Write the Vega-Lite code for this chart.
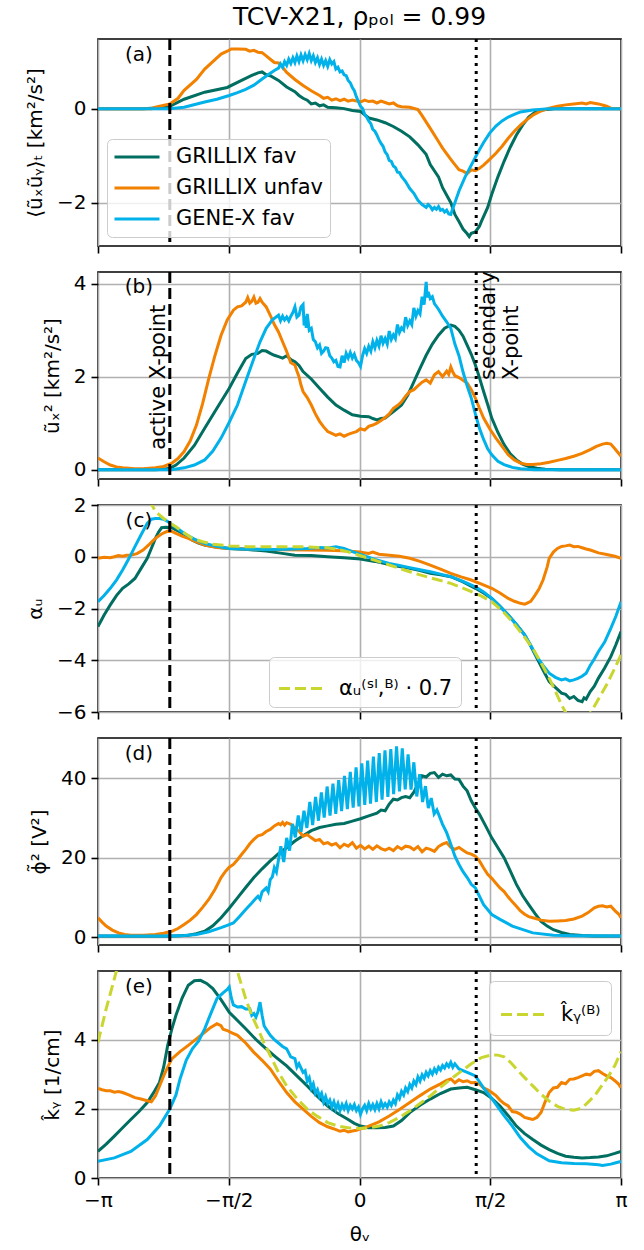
{
"$schema": "https://vega.github.io/schema/vega-lite/v6.json",
"background": "white",
"padding": {"left": 24, "top": 3, "right": 12, "bottom": 4},
"config": {
 "font": "DejaVu Sans",
 "view": {"stroke": "black", "strokeWidth": 1.6},
 "axis": {"domain": false, "grid": true, "gridColor": "#b0b0b0", "gridWidth": 1.6, "gridOpacity": 1, "tickColor": "black", "tickSize": 7, "tickWidth": 1.6, "labelFont": "DejaVu Sans", "labelFontSize": 20, "labelColor": "black", "labelPadding": 5, "labelFlush": false, "labelOverlap": false, "titleFont": "DejaVu Sans", "titleFontSize": 20, "titleFontWeight": "normal", "titleColor": "black", "titlePadding": 11},
 "legend": {"title": null, "symbolType": "stroke", "symbolSize": 1600, "symbolStrokeWidth": 3, "labelFont": "DejaVu Sans", "labelFontSize": 21, "labelColor": "black", "labelOffset": 15, "rowPadding": 0, "padding": 7, "fillColor": "rgba(255,255,255,0.8)", "strokeColor": "#cccccc", "cornerRadius": 5, "labelLimit": 300},
 "text": {"font": "DejaVu Sans", "fontSize": 20, "color": "black"}
},
"datasets": {
 "xa": [{"t": -2.279}],
 "xs": [{"t": 1.402}],
 "lab_a": [{"t": -2.65, "v": 1.15, "label": "(a)"}],
 "lab_b": [{"t": -2.65, "v": 3.92, "label": "(b)"}],
 "lab_c": [{"t": -2.65, "v": 1.4, "label": "(c)"}],
 "lab_d": [{"t": -2.65, "v": 46.2, "label": "(d)"}],
 "lab_e": [{"t": -2.65, "v": 5.53, "label": "(e)"}],
 "ann_b": [{"t": -2.403, "v": 0.43, "label": "active X-point"}, {"t": 1.56, "v": 1.93, "label": "secondary"}, {"t": 1.83, "v": 1.93, "label": "X-point"}],
 "a": [
{"s":"GRILLIX fav","t":-3.142,"v":0},{"s":"GRILLIX fav","t":-2.6,"v":0},{"s":"GRILLIX fav","t":-2.4,"v":0.02},{"s":"GRILLIX fav","t":-2.279,"v":0.05},{"s":"GRILLIX fav","t":-2.107,"v":0.2},{"s":"GRILLIX fav","t":-1.86,"v":0.35},{"s":"GRILLIX fav","t":-1.589,"v":0.45},{"s":"GRILLIX fav","t":-1.417,"v":0.6},{"s":"GRILLIX fav","t":-1.3,"v":0.7},{"s":"GRILLIX fav","t":-1.22,"v":0.76},{"s":"GRILLIX fav","t":-1.17,"v":0.78},{"s":"GRILLIX fav","t":-1.121,"v":0.72},{"s":"GRILLIX fav","t":-1.072,"v":0.7},{"s":"GRILLIX fav","t":-0.973,"v":0.6},{"s":"GRILLIX fav","t":-0.875,"v":0.46},{"s":"GRILLIX fav","t":-0.776,"v":0.36},{"s":"GRILLIX fav","t":-0.727,"v":0.28},{"s":"GRILLIX fav","t":-0.678,"v":0.22},{"s":"GRILLIX fav","t":-0.628,"v":0.18},{"s":"GRILLIX fav","t":-0.58,"v":0.1},{"s":"GRILLIX fav","t":-0.53,"v":0.12},{"s":"GRILLIX fav","t":-0.48,"v":0.06},{"s":"GRILLIX fav","t":-0.431,"v":0.08},{"s":"GRILLIX fav","t":-0.382,"v":0.03},{"s":"GRILLIX fav","t":-0.283,"v":0.02},{"s":"GRILLIX fav","t":-0.185,"v":0.0},{"s":"GRILLIX fav","t":-0.086,"v":-0.04},{"s":"GRILLIX fav","t":0.012,"v":-0.06},{"s":"GRILLIX fav","t":0.111,"v":-0.2},{"s":"GRILLIX fav","t":0.209,"v":-0.24},{"s":"GRILLIX fav","t":0.308,"v":-0.3},{"s":"GRILLIX fav","t":0.406,"v":-0.38},{"s":"GRILLIX fav","t":0.505,"v":-0.48},{"s":"GRILLIX fav","t":0.604,"v":-0.6},{"s":"GRILLIX fav","t":0.702,"v":-0.77},{"s":"GRILLIX fav","t":0.8,"v":-0.97},{"s":"GRILLIX fav","t":0.85,"v":-1.19},{"s":"GRILLIX fav","t":0.949,"v":-1.45},{"s":"GRILLIX fav","t":0.998,"v":-1.68},{"s":"GRILLIX fav","t":1.097,"v":-2.0},{"s":"GRILLIX fav","t":1.146,"v":-2.25},{"s":"GRILLIX fav","t":1.195,"v":-2.4},{"s":"GRILLIX fav","t":1.244,"v":-2.56},{"s":"GRILLIX fav","t":1.294,"v":-2.66},{"s":"GRILLIX fav","t":1.318,"v":-2.72},{"s":"GRILLIX fav","t":1.343,"v":-2.65},{"s":"GRILLIX fav","t":1.392,"v":-2.62},{"s":"GRILLIX fav","t":1.441,"v":-2.5},{"s":"GRILLIX fav","t":1.466,"v":-2.39},{"s":"GRILLIX fav","t":1.54,"v":-2.1},{"s":"GRILLIX fav","t":1.589,"v":-1.82},{"s":"GRILLIX fav","t":1.663,"v":-1.45},{"s":"GRILLIX fav","t":1.737,"v":-1.12},{"s":"GRILLIX fav","t":1.811,"v":-0.82},{"s":"GRILLIX fav","t":1.885,"v":-0.56},{"s":"GRILLIX fav","t":1.959,"v":-0.35},{"s":"GRILLIX fav","t":2.033,"v":-0.18},{"s":"GRILLIX fav","t":2.107,"v":-0.08},{"s":"GRILLIX fav","t":2.18,"v":-0.03},{"s":"GRILLIX fav","t":2.378,"v":0},{"s":"GRILLIX fav","t":3.142,"v":0},
{"s":"GRILLIX unfav","t":-3.142,"v":0},{"s":"GRILLIX unfav","t":-2.5,"v":0},{"s":"GRILLIX unfav","t":-2.452,"v":0.03},{"s":"GRILLIX unfav","t":-2.279,"v":0.1},{"s":"GRILLIX unfav","t":-2.18,"v":0.22},{"s":"GRILLIX unfav","t":-2.107,"v":0.39},{"s":"GRILLIX unfav","t":-1.959,"v":0.62},{"s":"GRILLIX unfav","t":-1.86,"v":0.84},{"s":"GRILLIX unfav","t":-1.762,"v":1.0},{"s":"GRILLIX unfav","t":-1.663,"v":1.16},{"s":"GRILLIX unfav","t":-1.589,"v":1.22},{"s":"GRILLIX unfav","t":-1.54,"v":1.27},{"s":"GRILLIX unfav","t":-1.466,"v":1.27},{"s":"GRILLIX unfav","t":-1.367,"v":1.26},{"s":"GRILLIX unfav","t":-1.318,"v":1.22},{"s":"GRILLIX unfav","t":-1.269,"v":1.24},{"s":"GRILLIX unfav","t":-1.22,"v":1.2},{"s":"GRILLIX unfav","t":-1.17,"v":1.19},{"s":"GRILLIX unfav","t":-1.121,"v":1.12},{"s":"GRILLIX unfav","t":-1.072,"v":1.05},{"s":"GRILLIX unfav","t":-1.023,"v":0.98},{"s":"GRILLIX unfav","t":-0.973,"v":0.97},{"s":"GRILLIX unfav","t":-0.924,"v":0.88},{"s":"GRILLIX unfav","t":-0.875,"v":0.77},{"s":"GRILLIX unfav","t":-0.776,"v":0.62},{"s":"GRILLIX unfav","t":-0.678,"v":0.49},{"s":"GRILLIX unfav","t":-0.58,"v":0.38},{"s":"GRILLIX unfav","t":-0.48,"v":0.28},{"s":"GRILLIX unfav","t":-0.431,"v":0.22},{"s":"GRILLIX unfav","t":-0.382,"v":0.24},{"s":"GRILLIX unfav","t":-0.333,"v":0.18},{"s":"GRILLIX unfav","t":-0.283,"v":0.21},{"s":"GRILLIX unfav","t":-0.234,"v":0.17},{"s":"GRILLIX unfav","t":-0.185,"v":0.2},{"s":"GRILLIX unfav","t":-0.136,"v":0.16},{"s":"GRILLIX unfav","t":-0.086,"v":0.18},{"s":"GRILLIX unfav","t":0.012,"v":0.14},{"s":"GRILLIX unfav","t":0.062,"v":0.18},{"s":"GRILLIX unfav","t":0.111,"v":0.15},{"s":"GRILLIX unfav","t":0.16,"v":0.16},{"s":"GRILLIX unfav","t":0.209,"v":0.12},{"s":"GRILLIX unfav","t":0.259,"v":0.16},{"s":"GRILLIX unfav","t":0.308,"v":0.13},{"s":"GRILLIX unfav","t":0.357,"v":0.1},{"s":"GRILLIX unfav","t":0.407,"v":0.12},{"s":"GRILLIX unfav","t":0.456,"v":0.06},{"s":"GRILLIX unfav","t":0.505,"v":0.04},{"s":"GRILLIX unfav","t":0.604,"v":0.03},{"s":"GRILLIX unfav","t":0.702,"v":-0.02},{"s":"GRILLIX unfav","t":0.752,"v":-0.15},{"s":"GRILLIX unfav","t":0.85,"v":-0.42},{"s":"GRILLIX unfav","t":0.949,"v":-0.7},{"s":"GRILLIX unfav","t":0.998,"v":-0.84},{"s":"GRILLIX unfav","t":1.097,"v":-1.08},{"s":"GRILLIX unfav","t":1.146,"v":-1.19},{"s":"GRILLIX unfav","t":1.195,"v":-1.3},{"s":"GRILLIX unfav","t":1.244,"v":-1.33},{"s":"GRILLIX unfav","t":1.293,"v":-1.38},{"s":"GRILLIX unfav","t":1.343,"v":-1.3},{"s":"GRILLIX unfav","t":1.392,"v":-1.32},{"s":"GRILLIX unfav","t":1.441,"v":-1.27},{"s":"GRILLIX unfav","t":1.491,"v":-1.2},{"s":"GRILLIX unfav","t":1.564,"v":-1.08},{"s":"GRILLIX unfav","t":1.639,"v":-0.95},{"s":"GRILLIX unfav","t":1.713,"v":-0.8},{"s":"GRILLIX unfav","t":1.787,"v":-0.63},{"s":"GRILLIX unfav","t":1.86,"v":-0.48},{"s":"GRILLIX unfav","t":1.934,"v":-0.35},{"s":"GRILLIX unfav","t":2.008,"v":-0.24},{"s":"GRILLIX unfav","t":2.082,"v":-0.14},{"s":"GRILLIX unfav","t":2.18,"v":-0.05},{"s":"GRILLIX unfav","t":2.279,"v":0.01},{"s":"GRILLIX unfav","t":2.378,"v":0.05},{"s":"GRILLIX unfav","t":2.476,"v":0.08},{"s":"GRILLIX unfav","t":2.575,"v":0.1},{"s":"GRILLIX unfav","t":2.674,"v":0.12},{"s":"GRILLIX unfav","t":2.723,"v":0.1},{"s":"GRILLIX unfav","t":2.772,"v":0.13},{"s":"GRILLIX unfav","t":2.871,"v":0.1},{"s":"GRILLIX unfav","t":2.969,"v":0.05},{"s":"GRILLIX unfav","t":3.019,"v":0.01},{"s":"GRILLIX unfav","t":3.142,"v":0},
{"s":"GENE-X fav","t":-3.142,"v":0},{"s":"GENE-X fav","t":-2.279,"v":0},{"s":"GENE-X fav","t":-2.107,"v":0.03},{"s":"GENE-X fav","t":-1.86,"v":0.14},{"s":"GENE-X fav","t":-1.713,"v":0.2},{"s":"GENE-X fav","t":-1.565,"v":0.28},{"s":"GENE-X fav","t":-1.466,"v":0.34},{"s":"GENE-X fav","t":-1.367,"v":0.41},{"s":"GENE-X fav","t":-1.269,"v":0.5},{"s":"GENE-X fav","t":-1.17,"v":0.63},{"s":"GENE-X fav","t":-1.098,"v":0.72},{"s":"GENE-X fav","t":-1.023,"v":0.81},{"s":"GENE-X fav","t":-0.973,"v":0.86},{"s":"GENE-X fav","t":-0.949,"v":0.95},{"s":"GENE-X fav","t":-0.924,"v":0.88},{"s":"GENE-X fav","t":-0.9,"v":1.0},{"s":"GENE-X fav","t":-0.875,"v":0.92},{"s":"GENE-X fav","t":-0.85,"v":1.05},{"s":"GENE-X fav","t":-0.825,"v":0.96},{"s":"GENE-X fav","t":-0.8,"v":1.08},{"s":"GENE-X fav","t":-0.776,"v":0.98},{"s":"GENE-X fav","t":-0.752,"v":1.12},{"s":"GENE-X fav","t":-0.727,"v":1.0},{"s":"GENE-X fav","t":-0.703,"v":1.14},{"s":"GENE-X fav","t":-0.678,"v":1.02},{"s":"GENE-X fav","t":-0.653,"v":1.15},{"s":"GENE-X fav","t":-0.628,"v":1.04},{"s":"GENE-X fav","t":-0.604,"v":1.17},{"s":"GENE-X fav","t":-0.579,"v":1.02},{"s":"GENE-X fav","t":-0.555,"v":1.12},{"s":"GENE-X fav","t":-0.53,"v":0.98},{"s":"GENE-X fav","t":-0.505,"v":1.08},{"s":"GENE-X fav","t":-0.48,"v":0.94},{"s":"GENE-X fav","t":-0.456,"v":1.05},{"s":"GENE-X fav","t":-0.431,"v":0.92},{"s":"GENE-X fav","t":-0.407,"v":1.02},{"s":"GENE-X fav","t":-0.382,"v":0.9},{"s":"GENE-X fav","t":-0.357,"v":1.04},{"s":"GENE-X fav","t":-0.333,"v":0.95},{"s":"GENE-X fav","t":-0.308,"v":1.0},{"s":"GENE-X fav","t":-0.284,"v":0.84},{"s":"GENE-X fav","t":-0.259,"v":0.88},{"s":"GENE-X fav","t":-0.234,"v":0.78},{"s":"GENE-X fav","t":-0.209,"v":0.8},{"s":"GENE-X fav","t":-0.185,"v":0.72},{"s":"GENE-X fav","t":-0.16,"v":0.7},{"s":"GENE-X fav","t":-0.136,"v":0.6},{"s":"GENE-X fav","t":-0.111,"v":0.55},{"s":"GENE-X fav","t":-0.086,"v":0.45},{"s":"GENE-X fav","t":-0.062,"v":0.38},{"s":"GENE-X fav","t":-0.037,"v":0.25},{"s":"GENE-X fav","t":-0.012,"v":0.15},{"s":"GENE-X fav","t":0.012,"v":0.05},{"s":"GENE-X fav","t":0.037,"v":0.0},{"s":"GENE-X fav","t":0.062,"v":-0.12},{"s":"GENE-X fav","t":0.086,"v":-0.18},{"s":"GENE-X fav","t":0.111,"v":-0.26},{"s":"GENE-X fav","t":0.136,"v":-0.32},{"s":"GENE-X fav","t":0.16,"v":-0.44},{"s":"GENE-X fav","t":0.185,"v":-0.48},{"s":"GENE-X fav","t":0.209,"v":-0.56},{"s":"GENE-X fav","t":0.234,"v":-0.66},{"s":"GENE-X fav","t":0.259,"v":-0.74},{"s":"GENE-X fav","t":0.283,"v":-0.8},{"s":"GENE-X fav","t":0.308,"v":-0.92},{"s":"GENE-X fav","t":0.333,"v":-0.98},{"s":"GENE-X fav","t":0.357,"v":-1.1},{"s":"GENE-X fav","t":0.382,"v":-1.12},{"s":"GENE-X fav","t":0.407,"v":-1.22},{"s":"GENE-X fav","t":0.431,"v":-1.25},{"s":"GENE-X fav","t":0.456,"v":-1.35},{"s":"GENE-X fav","t":0.48,"v":-1.36},{"s":"GENE-X fav","t":0.505,"v":-1.44},{"s":"GENE-X fav","t":0.554,"v":-1.55},{"s":"GENE-X fav","t":0.604,"v":-1.7},{"s":"GENE-X fav","t":0.653,"v":-1.8},{"s":"GENE-X fav","t":0.702,"v":-1.95},{"s":"GENE-X fav","t":0.752,"v":-2.04},{"s":"GENE-X fav","t":0.801,"v":-2.1},{"s":"GENE-X fav","t":0.825,"v":-2.04},{"s":"GENE-X fav","t":0.85,"v":-2.08},{"s":"GENE-X fav","t":0.875,"v":-2.15},{"s":"GENE-X fav","t":0.9,"v":-2.1},{"s":"GENE-X fav","t":0.924,"v":-2.14},{"s":"GENE-X fav","t":0.949,"v":-2.08},{"s":"GENE-X fav","t":0.973,"v":-2.16},{"s":"GENE-X fav","t":0.998,"v":-2.14},{"s":"GENE-X fav","t":1.022,"v":-2.2},{"s":"GENE-X fav","t":1.047,"v":-2.16},{"s":"GENE-X fav","t":1.072,"v":-2.24},{"s":"GENE-X fav","t":1.097,"v":-2.25},{"s":"GENE-X fav","t":1.121,"v":-2.12},{"s":"GENE-X fav","t":1.146,"v":-2.0},{"s":"GENE-X fav","t":1.195,"v":-1.75},{"s":"GENE-X fav","t":1.269,"v":-1.45},{"s":"GENE-X fav","t":1.343,"v":-1.2},{"s":"GENE-X fav","t":1.417,"v":-0.95},{"s":"GENE-X fav","t":1.491,"v":-0.72},{"s":"GENE-X fav","t":1.564,"v":-0.52},{"s":"GENE-X fav","t":1.639,"v":-0.37},{"s":"GENE-X fav","t":1.713,"v":-0.26},{"s":"GENE-X fav","t":1.787,"v":-0.18},{"s":"GENE-X fav","t":1.86,"v":-0.12},{"s":"GENE-X fav","t":1.934,"v":-0.07},{"s":"GENE-X fav","t":2.082,"v":-0.03},{"s":"GENE-X fav","t":2.279,"v":0},{"s":"GENE-X fav","t":3.142,"v":0}
 ],
 "b": [
{"s":"GRILLIX fav","t":-3.142,"v":0},{"s":"GRILLIX fav","t":-2.451,"v":0},{"s":"GRILLIX fav","t":-2.353,"v":0.01},{"s":"GRILLIX fav","t":-2.279,"v":0.03},{"s":"GRILLIX fav","t":-2.205,"v":0.1},{"s":"GRILLIX fav","t":-2.107,"v":0.25},{"s":"GRILLIX fav","t":-1.984,"v":0.52},{"s":"GRILLIX fav","t":-1.86,"v":0.89},{"s":"GRILLIX fav","t":-1.713,"v":1.32},{"s":"GRILLIX fav","t":-1.565,"v":1.75},{"s":"GRILLIX fav","t":-1.466,"v":2.08},{"s":"GRILLIX fav","t":-1.367,"v":2.39},{"s":"GRILLIX fav","t":-1.294,"v":2.48},{"s":"GRILLIX fav","t":-1.22,"v":2.5},{"s":"GRILLIX fav","t":-1.17,"v":2.56},{"s":"GRILLIX fav","t":-1.121,"v":2.55},{"s":"GRILLIX fav","t":-1.072,"v":2.5},{"s":"GRILLIX fav","t":-1.023,"v":2.46},{"s":"GRILLIX fav","t":-0.973,"v":2.43},{"s":"GRILLIX fav","t":-0.924,"v":2.4},{"s":"GRILLIX fav","t":-0.875,"v":2.45},{"s":"GRILLIX fav","t":-0.826,"v":2.37},{"s":"GRILLIX fav","t":-0.776,"v":2.32},{"s":"GRILLIX fav","t":-0.727,"v":2.24},{"s":"GRILLIX fav","t":-0.678,"v":2.11},{"s":"GRILLIX fav","t":-0.58,"v":1.95},{"s":"GRILLIX fav","t":-0.48,"v":1.75},{"s":"GRILLIX fav","t":-0.382,"v":1.56},{"s":"GRILLIX fav","t":-0.283,"v":1.39},{"s":"GRILLIX fav","t":-0.185,"v":1.28},{"s":"GRILLIX fav","t":-0.086,"v":1.18},{"s":"GRILLIX fav","t":0.012,"v":1.15},{"s":"GRILLIX fav","t":0.111,"v":1.14},{"s":"GRILLIX fav","t":0.16,"v":1.1},{"s":"GRILLIX fav","t":0.209,"v":1.07},{"s":"GRILLIX fav","t":0.259,"v":1.1},{"s":"GRILLIX fav","t":0.308,"v":1.11},{"s":"GRILLIX fav","t":0.357,"v":1.18},{"s":"GRILLIX fav","t":0.431,"v":1.28},{"s":"GRILLIX fav","t":0.505,"v":1.39},{"s":"GRILLIX fav","t":0.579,"v":1.6},{"s":"GRILLIX fav","t":0.653,"v":1.89},{"s":"GRILLIX fav","t":0.727,"v":2.18},{"s":"GRILLIX fav","t":0.801,"v":2.46},{"s":"GRILLIX fav","t":0.875,"v":2.7},{"s":"GRILLIX fav","t":0.949,"v":2.89},{"s":"GRILLIX fav","t":1.023,"v":3.04},{"s":"GRILLIX fav","t":1.097,"v":3.11},{"s":"GRILLIX fav","t":1.146,"v":3.08},{"s":"GRILLIX fav","t":1.195,"v":3.0},{"s":"GRILLIX fav","t":1.244,"v":2.87},{"s":"GRILLIX fav","t":1.293,"v":2.68},{"s":"GRILLIX fav","t":1.343,"v":2.48},{"s":"GRILLIX fav","t":1.392,"v":2.25},{"s":"GRILLIX fav","t":1.441,"v":1.98},{"s":"GRILLIX fav","t":1.491,"v":1.68},{"s":"GRILLIX fav","t":1.54,"v":1.4},{"s":"GRILLIX fav","t":1.589,"v":1.11},{"s":"GRILLIX fav","t":1.663,"v":0.8},{"s":"GRILLIX fav","t":1.737,"v":0.54},{"s":"GRILLIX fav","t":1.811,"v":0.34},{"s":"GRILLIX fav","t":1.885,"v":0.21},{"s":"GRILLIX fav","t":1.959,"v":0.12},{"s":"GRILLIX fav","t":2.033,"v":0.07},{"s":"GRILLIX fav","t":2.131,"v":0.03},{"s":"GRILLIX fav","t":2.23,"v":0.01},{"s":"GRILLIX fav","t":2.4,"v":0},{"s":"GRILLIX fav","t":3.142,"v":0},
{"s":"GRILLIX unfav","t":-3.142,"v":0.25},{"s":"GRILLIX unfav","t":-3.068,"v":0.17},{"s":"GRILLIX unfav","t":-2.994,"v":0.1},{"s":"GRILLIX unfav","t":-2.92,"v":0.06},{"s":"GRILLIX unfav","t":-2.846,"v":0.04},{"s":"GRILLIX unfav","t":-2.7,"v":0.02},{"s":"GRILLIX unfav","t":-2.6,"v":0.02},{"s":"GRILLIX unfav","t":-2.452,"v":0.04},{"s":"GRILLIX unfav","t":-2.353,"v":0.07},{"s":"GRILLIX unfav","t":-2.255,"v":0.14},{"s":"GRILLIX unfav","t":-2.181,"v":0.24},{"s":"GRILLIX unfav","t":-2.107,"v":0.39},{"s":"GRILLIX unfav","t":-2.033,"v":0.62},{"s":"GRILLIX unfav","t":-1.959,"v":0.96},{"s":"GRILLIX unfav","t":-1.885,"v":1.42},{"s":"GRILLIX unfav","t":-1.811,"v":1.96},{"s":"GRILLIX unfav","t":-1.737,"v":2.45},{"s":"GRILLIX unfav","t":-1.663,"v":2.89},{"s":"GRILLIX unfav","t":-1.589,"v":3.22},{"s":"GRILLIX unfav","t":-1.515,"v":3.43},{"s":"GRILLIX unfav","t":-1.466,"v":3.5},{"s":"GRILLIX unfav","t":-1.417,"v":3.52},{"s":"GRILLIX unfav","t":-1.367,"v":3.6},{"s":"GRILLIX unfav","t":-1.343,"v":3.7},{"s":"GRILLIX unfav","t":-1.318,"v":3.58},{"s":"GRILLIX unfav","t":-1.294,"v":3.62},{"s":"GRILLIX unfav","t":-1.269,"v":3.71},{"s":"GRILLIX unfav","t":-1.244,"v":3.58},{"s":"GRILLIX unfav","t":-1.22,"v":3.6},{"s":"GRILLIX unfav","t":-1.195,"v":3.68},{"s":"GRILLIX unfav","t":-1.17,"v":3.6},{"s":"GRILLIX unfav","t":-1.121,"v":3.5},{"s":"GRILLIX unfav","t":-1.072,"v":3.32},{"s":"GRILLIX unfav","t":-1.023,"v":3.12},{"s":"GRILLIX unfav","t":-0.973,"v":2.96},{"s":"GRILLIX unfav","t":-0.924,"v":2.75},{"s":"GRILLIX unfav","t":-0.875,"v":2.54},{"s":"GRILLIX unfav","t":-0.826,"v":2.3},{"s":"GRILLIX unfav","t":-0.776,"v":2.25},{"s":"GRILLIX unfav","t":-0.752,"v":2.12},{"s":"GRILLIX unfav","t":-0.727,"v":2.0},{"s":"GRILLIX unfav","t":-0.703,"v":1.82},{"s":"GRILLIX unfav","t":-0.678,"v":1.68},{"s":"GRILLIX unfav","t":-0.628,"v":1.55},{"s":"GRILLIX unfav","t":-0.579,"v":1.39},{"s":"GRILLIX unfav","t":-0.53,"v":1.2},{"s":"GRILLIX unfav","t":-0.48,"v":1.04},{"s":"GRILLIX unfav","t":-0.431,"v":0.92},{"s":"GRILLIX unfav","t":-0.382,"v":0.82},{"s":"GRILLIX unfav","t":-0.333,"v":0.78},{"s":"GRILLIX unfav","t":-0.284,"v":0.74},{"s":"GRILLIX unfav","t":-0.234,"v":0.77},{"s":"GRILLIX unfav","t":-0.185,"v":0.72},{"s":"GRILLIX unfav","t":-0.136,"v":0.76},{"s":"GRILLIX unfav","t":-0.086,"v":0.79},{"s":"GRILLIX unfav","t":-0.037,"v":0.82},{"s":"GRILLIX unfav","t":0.012,"v":0.88},{"s":"GRILLIX unfav","t":0.062,"v":0.85},{"s":"GRILLIX unfav","t":0.111,"v":0.93},{"s":"GRILLIX unfav","t":0.16,"v":0.96},{"s":"GRILLIX unfav","t":0.209,"v":1.0},{"s":"GRILLIX unfav","t":0.259,"v":1.06},{"s":"GRILLIX unfav","t":0.308,"v":1.12},{"s":"GRILLIX unfav","t":0.357,"v":1.2},{"s":"GRILLIX unfav","t":0.407,"v":1.32},{"s":"GRILLIX unfav","t":0.456,"v":1.38},{"s":"GRILLIX unfav","t":0.505,"v":1.46},{"s":"GRILLIX unfav","t":0.554,"v":1.58},{"s":"GRILLIX unfav","t":0.604,"v":1.68},{"s":"GRILLIX unfav","t":0.653,"v":1.72},{"s":"GRILLIX unfav","t":0.702,"v":1.8},{"s":"GRILLIX unfav","t":0.752,"v":1.88},{"s":"GRILLIX unfav","t":0.801,"v":1.93},{"s":"GRILLIX unfav","t":0.85,"v":1.86},{"s":"GRILLIX unfav","t":0.9,"v":2.04},{"s":"GRILLIX unfav","t":0.949,"v":2.11},{"s":"GRILLIX unfav","t":0.998,"v":2.0},{"s":"GRILLIX unfav","t":1.047,"v":2.12},{"s":"GRILLIX unfav","t":1.072,"v":2.05},{"s":"GRILLIX unfav","t":1.097,"v":2.21},{"s":"GRILLIX unfav","t":1.121,"v":2.1},{"s":"GRILLIX unfav","t":1.146,"v":2.02},{"s":"GRILLIX unfav","t":1.195,"v":1.98},{"s":"GRILLIX unfav","t":1.244,"v":1.92},{"s":"GRILLIX unfav","t":1.293,"v":1.86},{"s":"GRILLIX unfav","t":1.343,"v":1.72},{"s":"GRILLIX unfav","t":1.392,"v":1.54},{"s":"GRILLIX unfav","t":1.441,"v":1.32},{"s":"GRILLIX unfav","t":1.491,"v":1.11},{"s":"GRILLIX unfav","t":1.564,"v":0.88},{"s":"GRILLIX unfav","t":1.639,"v":0.68},{"s":"GRILLIX unfav","t":1.713,"v":0.5},{"s":"GRILLIX unfav","t":1.787,"v":0.32},{"s":"GRILLIX unfav","t":1.86,"v":0.21},{"s":"GRILLIX unfav","t":1.934,"v":0.14},{"s":"GRILLIX unfav","t":2.008,"v":0.11},{"s":"GRILLIX unfav","t":2.082,"v":0.11},{"s":"GRILLIX unfav","t":2.181,"v":0.13},{"s":"GRILLIX unfav","t":2.279,"v":0.16},{"s":"GRILLIX unfav","t":2.378,"v":0.2},{"s":"GRILLIX unfav","t":2.476,"v":0.24},{"s":"GRILLIX unfav","t":2.575,"v":0.29},{"s":"GRILLIX unfav","t":2.674,"v":0.35},{"s":"GRILLIX unfav","t":2.772,"v":0.43},{"s":"GRILLIX unfav","t":2.846,"v":0.5},{"s":"GRILLIX unfav","t":2.92,"v":0.55},{"s":"GRILLIX unfav","t":2.969,"v":0.57},{"s":"GRILLIX unfav","t":3.019,"v":0.55},{"s":"GRILLIX unfav","t":3.068,"v":0.45},{"s":"GRILLIX unfav","t":3.142,"v":0.29},
{"s":"GENE-X fav","t":-3.142,"v":0},{"s":"GENE-X fav","t":-2.255,"v":0},{"s":"GENE-X fav","t":-2.18,"v":0.02},{"s":"GENE-X fav","t":-2.107,"v":0.04},{"s":"GENE-X fav","t":-1.984,"v":0.1},{"s":"GENE-X fav","t":-1.86,"v":0.21},{"s":"GENE-X fav","t":-1.762,"v":0.4},{"s":"GENE-X fav","t":-1.663,"v":0.68},{"s":"GENE-X fav","t":-1.565,"v":1.02},{"s":"GENE-X fav","t":-1.466,"v":1.39},{"s":"GENE-X fav","t":-1.367,"v":1.9},{"s":"GENE-X fav","t":-1.269,"v":2.39},{"s":"GENE-X fav","t":-1.195,"v":2.75},{"s":"GENE-X fav","t":-1.121,"v":3.04},{"s":"GENE-X fav","t":-1.047,"v":3.22},{"s":"GENE-X fav","t":-0.973,"v":3.32},{"s":"GENE-X fav","t":-0.949,"v":3.2},{"s":"GENE-X fav","t":-0.924,"v":3.3},{"s":"GENE-X fav","t":-0.9,"v":3.22},{"s":"GENE-X fav","t":-0.875,"v":3.28},{"s":"GENE-X fav","t":-0.85,"v":3.2},{"s":"GENE-X fav","t":-0.825,"v":3.3},{"s":"GENE-X fav","t":-0.8,"v":3.38},{"s":"GENE-X fav","t":-0.776,"v":3.5},{"s":"GENE-X fav","t":-0.752,"v":3.28},{"s":"GENE-X fav","t":-0.727,"v":3.32},{"s":"GENE-X fav","t":-0.703,"v":3.5},{"s":"GENE-X fav","t":-0.678,"v":3.55},{"s":"GENE-X fav","t":-0.665,"v":3.1},{"s":"GENE-X fav","t":-0.653,"v":3.3},{"s":"GENE-X fav","t":-0.64,"v":3.05},{"s":"GENE-X fav","t":-0.628,"v":3.35},{"s":"GENE-X fav","t":-0.604,"v":3.0},{"s":"GENE-X fav","t":-0.579,"v":3.04},{"s":"GENE-X fav","t":-0.555,"v":2.8},{"s":"GENE-X fav","t":-0.53,"v":2.75},{"s":"GENE-X fav","t":-0.505,"v":2.62},{"s":"GENE-X fav","t":-0.48,"v":2.68},{"s":"GENE-X fav","t":-0.456,"v":2.5},{"s":"GENE-X fav","t":-0.431,"v":2.55},{"s":"GENE-X fav","t":-0.407,"v":2.62},{"s":"GENE-X fav","t":-0.382,"v":2.61},{"s":"GENE-X fav","t":-0.357,"v":2.45},{"s":"GENE-X fav","t":-0.333,"v":2.4},{"s":"GENE-X fav","t":-0.308,"v":2.32},{"s":"GENE-X fav","t":-0.284,"v":2.35},{"s":"GENE-X fav","t":-0.259,"v":2.22},{"s":"GENE-X fav","t":-0.234,"v":2.21},{"s":"GENE-X fav","t":-0.209,"v":2.45},{"s":"GENE-X fav","t":-0.185,"v":2.3},{"s":"GENE-X fav","t":-0.16,"v":2.5},{"s":"GENE-X fav","t":-0.136,"v":2.4},{"s":"GENE-X fav","t":-0.111,"v":2.52},{"s":"GENE-X fav","t":-0.086,"v":2.4},{"s":"GENE-X fav","t":-0.062,"v":2.48},{"s":"GENE-X fav","t":-0.037,"v":2.35},{"s":"GENE-X fav","t":-0.012,"v":2.3},{"s":"GENE-X fav","t":0.012,"v":2.22},{"s":"GENE-X fav","t":0.037,"v":2.45},{"s":"GENE-X fav","t":0.062,"v":2.6},{"s":"GENE-X fav","t":0.086,"v":2.5},{"s":"GENE-X fav","t":0.111,"v":2.65},{"s":"GENE-X fav","t":0.136,"v":2.55},{"s":"GENE-X fav","t":0.16,"v":2.75},{"s":"GENE-X fav","t":0.185,"v":2.62},{"s":"GENE-X fav","t":0.209,"v":2.78},{"s":"GENE-X fav","t":0.234,"v":2.66},{"s":"GENE-X fav","t":0.259,"v":2.88},{"s":"GENE-X fav","t":0.283,"v":2.72},{"s":"GENE-X fav","t":0.308,"v":2.82},{"s":"GENE-X fav","t":0.333,"v":2.7},{"s":"GENE-X fav","t":0.357,"v":2.98},{"s":"GENE-X fav","t":0.382,"v":2.8},{"s":"GENE-X fav","t":0.407,"v":2.9},{"s":"GENE-X fav","t":0.431,"v":2.82},{"s":"GENE-X fav","t":0.456,"v":3.12},{"s":"GENE-X fav","t":0.48,"v":2.95},{"s":"GENE-X fav","t":0.505,"v":3.05},{"s":"GENE-X fav","t":0.53,"v":3.0},{"s":"GENE-X fav","t":0.554,"v":3.28},{"s":"GENE-X fav","t":0.579,"v":3.1},{"s":"GENE-X fav","t":0.604,"v":3.2},{"s":"GENE-X fav","t":0.628,"v":3.12},{"s":"GENE-X fav","t":0.653,"v":3.48},{"s":"GENE-X fav","t":0.678,"v":3.3},{"s":"GENE-X fav","t":0.702,"v":3.42},{"s":"GENE-X fav","t":0.727,"v":3.35},{"s":"GENE-X fav","t":0.752,"v":3.72},{"s":"GENE-X fav","t":0.776,"v":3.55},{"s":"GENE-X fav","t":0.801,"v":4.04},{"s":"GENE-X fav","t":0.813,"v":3.7},{"s":"GENE-X fav","t":0.825,"v":3.82},{"s":"GENE-X fav","t":0.85,"v":3.68},{"s":"GENE-X fav","t":0.875,"v":3.72},{"s":"GENE-X fav","t":0.9,"v":3.57},{"s":"GENE-X fav","t":0.949,"v":3.45},{"s":"GENE-X fav","t":0.998,"v":3.3},{"s":"GENE-X fav","t":1.047,"v":3.18},{"s":"GENE-X fav","t":1.097,"v":3.04},{"s":"GENE-X fav","t":1.146,"v":2.7},{"s":"GENE-X fav","t":1.195,"v":2.45},{"s":"GENE-X fav","t":1.244,"v":2.1},{"s":"GENE-X fav","t":1.294,"v":1.8},{"s":"GENE-X fav","t":1.343,"v":1.54},{"s":"GENE-X fav","t":1.392,"v":1.2},{"s":"GENE-X fav","t":1.441,"v":0.89},{"s":"GENE-X fav","t":1.491,"v":0.65},{"s":"GENE-X fav","t":1.54,"v":0.45},{"s":"GENE-X fav","t":1.589,"v":0.32},{"s":"GENE-X fav","t":1.663,"v":0.18},{"s":"GENE-X fav","t":1.737,"v":0.11},{"s":"GENE-X fav","t":1.836,"v":0.05},{"s":"GENE-X fav","t":1.934,"v":0.02},{"s":"GENE-X fav","t":2.1,"v":0},{"s":"GENE-X fav","t":3.142,"v":0}
 ],
 "c": [
{"s":"GRILLIX fav","t":-3.142,"v":-2.7},{"s":"GRILLIX fav","t":-3.068,"v":-2.25},{"s":"GRILLIX fav","t":-2.994,"v":-1.86},{"s":"GRILLIX fav","t":-2.92,"v":-1.5},{"s":"GRILLIX fav","t":-2.846,"v":-1.22},{"s":"GRILLIX fav","t":-2.772,"v":-1.05},{"s":"GRILLIX fav","t":-2.698,"v":-0.84},{"s":"GRILLIX fav","t":-2.624,"v":-0.45},{"s":"GRILLIX fav","t":-2.55,"v":-0.06},{"s":"GRILLIX fav","t":-2.501,"v":0.32},{"s":"GRILLIX fav","t":-2.452,"v":0.71},{"s":"GRILLIX fav","t":-2.415,"v":0.95},{"s":"GRILLIX fav","t":-2.378,"v":1.12},{"s":"GRILLIX fav","t":-2.329,"v":1.14},{"s":"GRILLIX fav","t":-2.279,"v":1.13},{"s":"GRILLIX fav","t":-2.255,"v":1.12},{"s":"GRILLIX fav","t":-2.205,"v":1.04},{"s":"GRILLIX fav","t":-2.156,"v":0.96},{"s":"GRILLIX fav","t":-2.082,"v":0.8},{"s":"GRILLIX fav","t":-2.008,"v":0.64},{"s":"GRILLIX fav","t":-1.934,"v":0.53},{"s":"GRILLIX fav","t":-1.86,"v":0.45},{"s":"GRILLIX fav","t":-1.713,"v":0.37},{"s":"GRILLIX fav","t":-1.565,"v":0.32},{"s":"GRILLIX fav","t":-1.343,"v":0.28},{"s":"GRILLIX fav","t":-1.121,"v":0.22},{"s":"GRILLIX fav","t":-0.949,"v":0.14},{"s":"GRILLIX fav","t":-0.776,"v":0.06},{"s":"GRILLIX fav","t":-0.579,"v":0.05},{"s":"GRILLIX fav","t":-0.382,"v":0.0},{"s":"GRILLIX fav","t":-0.185,"v":-0.04},{"s":"GRILLIX fav","t":0.012,"v":-0.09},{"s":"GRILLIX fav","t":0.185,"v":-0.18},{"s":"GRILLIX fav","t":0.357,"v":-0.3},{"s":"GRILLIX fav","t":0.48,"v":-0.38},{"s":"GRILLIX fav","t":0.604,"v":-0.45},{"s":"GRILLIX fav","t":0.727,"v":-0.53},{"s":"GRILLIX fav","t":0.85,"v":-0.64},{"s":"GRILLIX fav","t":0.973,"v":-0.7},{"s":"GRILLIX fav","t":1.097,"v":-0.77},{"s":"GRILLIX fav","t":1.244,"v":-0.97},{"s":"GRILLIX fav","t":1.392,"v":-1.22},{"s":"GRILLIX fav","t":1.491,"v":-1.4},{"s":"GRILLIX fav","t":1.589,"v":-1.61},{"s":"GRILLIX fav","t":1.688,"v":-1.92},{"s":"GRILLIX fav","t":1.787,"v":-2.25},{"s":"GRILLIX fav","t":1.885,"v":-2.62},{"s":"GRILLIX fav","t":1.984,"v":-3.02},{"s":"GRILLIX fav","t":2.057,"v":-3.45},{"s":"GRILLIX fav","t":2.131,"v":-3.92},{"s":"GRILLIX fav","t":2.205,"v":-4.38},{"s":"GRILLIX fav","t":2.279,"v":-4.82},{"s":"GRILLIX fav","t":2.353,"v":-5.05},{"s":"GRILLIX fav","t":2.427,"v":-5.27},{"s":"GRILLIX fav","t":2.476,"v":-5.32},{"s":"GRILLIX fav","t":2.525,"v":-5.48},{"s":"GRILLIX fav","t":2.575,"v":-5.4},{"s":"GRILLIX fav","t":2.624,"v":-5.55},{"s":"GRILLIX fav","t":2.674,"v":-5.6},{"s":"GRILLIX fav","t":2.698,"v":-5.45},{"s":"GRILLIX fav","t":2.723,"v":-5.5},{"s":"GRILLIX fav","t":2.772,"v":-5.21},{"s":"GRILLIX fav","t":2.821,"v":-5.0},{"s":"GRILLIX fav","t":2.871,"v":-4.69},{"s":"GRILLIX fav","t":2.945,"v":-4.3},{"s":"GRILLIX fav","t":3.019,"v":-3.86},{"s":"GRILLIX fav","t":3.08,"v":-3.4},{"s":"GRILLIX fav","t":3.142,"v":-2.89},
{"s":"GRILLIX unfav","t":-3.142,"v":-0.06},{"s":"GRILLIX unfav","t":-3.068,"v":-0.02},{"s":"GRILLIX unfav","t":-2.994,"v":-0.04},{"s":"GRILLIX unfav","t":-2.945,"v":0.0},{"s":"GRILLIX unfav","t":-2.896,"v":0.05},{"s":"GRILLIX unfav","t":-2.846,"v":0.02},{"s":"GRILLIX unfav","t":-2.797,"v":0.06},{"s":"GRILLIX unfav","t":-2.747,"v":0.06},{"s":"GRILLIX unfav","t":-2.673,"v":0.12},{"s":"GRILLIX unfav","t":-2.6,"v":0.26},{"s":"GRILLIX unfav","t":-2.526,"v":0.48},{"s":"GRILLIX unfav","t":-2.452,"v":0.71},{"s":"GRILLIX unfav","t":-2.378,"v":0.88},{"s":"GRILLIX unfav","t":-2.304,"v":0.99},{"s":"GRILLIX unfav","t":-2.255,"v":0.98},{"s":"GRILLIX unfav","t":-2.205,"v":0.9},{"s":"GRILLIX unfav","t":-2.131,"v":0.8},{"s":"GRILLIX unfav","t":-2.057,"v":0.71},{"s":"GRILLIX unfav","t":-1.959,"v":0.58},{"s":"GRILLIX unfav","t":-1.86,"v":0.45},{"s":"GRILLIX unfav","t":-1.713,"v":0.36},{"s":"GRILLIX unfav","t":-1.565,"v":0.32},{"s":"GRILLIX unfav","t":-1.343,"v":0.3},{"s":"GRILLIX unfav","t":-1.121,"v":0.28},{"s":"GRILLIX unfav","t":-0.875,"v":0.27},{"s":"GRILLIX unfav","t":-0.628,"v":0.26},{"s":"GRILLIX unfav","t":-0.382,"v":0.25},{"s":"GRILLIX unfav","t":-0.136,"v":0.22},{"s":"GRILLIX unfav","t":0.0,"v":0.18},{"s":"GRILLIX unfav","t":0.111,"v":0.13},{"s":"GRILLIX unfav","t":0.16,"v":0.18},{"s":"GRILLIX unfav","t":0.234,"v":0.1},{"s":"GRILLIX unfav","t":0.357,"v":0.06},{"s":"GRILLIX unfav","t":0.48,"v":0.02},{"s":"GRILLIX unfav","t":0.604,"v":-0.06},{"s":"GRILLIX unfav","t":0.727,"v":-0.18},{"s":"GRILLIX unfav","t":0.85,"v":-0.32},{"s":"GRILLIX unfav","t":0.973,"v":-0.48},{"s":"GRILLIX unfav","t":1.097,"v":-0.64},{"s":"GRILLIX unfav","t":1.22,"v":-0.78},{"s":"GRILLIX unfav","t":1.343,"v":-0.9},{"s":"GRILLIX unfav","t":1.466,"v":-1.06},{"s":"GRILLIX unfav","t":1.589,"v":-1.22},{"s":"GRILLIX unfav","t":1.688,"v":-1.4},{"s":"GRILLIX unfav","t":1.787,"v":-1.61},{"s":"GRILLIX unfav","t":1.86,"v":-1.72},{"s":"GRILLIX unfav","t":1.934,"v":-1.8},{"s":"GRILLIX unfav","t":1.984,"v":-1.83},{"s":"GRILLIX unfav","t":2.008,"v":-1.8},{"s":"GRILLIX unfav","t":2.057,"v":-1.72},{"s":"GRILLIX unfav","t":2.106,"v":-1.5},{"s":"GRILLIX unfav","t":2.156,"v":-1.25},{"s":"GRILLIX unfav","t":2.205,"v":-0.9},{"s":"GRILLIX unfav","t":2.254,"v":-0.4},{"s":"GRILLIX unfav","t":2.279,"v":-0.06},{"s":"GRILLIX unfav","t":2.329,"v":0.18},{"s":"GRILLIX unfav","t":2.378,"v":0.32},{"s":"GRILLIX unfav","t":2.427,"v":0.4},{"s":"GRILLIX unfav","t":2.476,"v":0.42},{"s":"GRILLIX unfav","t":2.525,"v":0.45},{"s":"GRILLIX unfav","t":2.575,"v":0.39},{"s":"GRILLIX unfav","t":2.624,"v":0.4},{"s":"GRILLIX unfav","t":2.674,"v":0.35},{"s":"GRILLIX unfav","t":2.723,"v":0.3},{"s":"GRILLIX unfav","t":2.772,"v":0.26},{"s":"GRILLIX unfav","t":2.871,"v":0.15},{"s":"GRILLIX unfav","t":2.969,"v":0.09},{"s":"GRILLIX unfav","t":3.068,"v":0.02},{"s":"GRILLIX unfav","t":3.142,"v":-0.06},
{"s":"GENE-X fav","t":-3.142,"v":-1.74},{"s":"GENE-X fav","t":-3.068,"v":-1.5},{"s":"GENE-X fav","t":-2.994,"v":-1.22},{"s":"GENE-X fav","t":-2.92,"v":-0.9},{"s":"GENE-X fav","t":-2.846,"v":-0.51},{"s":"GENE-X fav","t":-2.772,"v":-0.08},{"s":"GENE-X fav","t":-2.698,"v":0.39},{"s":"GENE-X fav","t":-2.624,"v":0.85},{"s":"GENE-X fav","t":-2.55,"v":1.29},{"s":"GENE-X fav","t":-2.501,"v":1.45},{"s":"GENE-X fav","t":-2.452,"v":1.48},{"s":"GENE-X fav","t":-2.403,"v":1.48},{"s":"GENE-X fav","t":-2.353,"v":1.45},{"s":"GENE-X fav","t":-2.304,"v":1.36},{"s":"GENE-X fav","t":-2.255,"v":1.25},{"s":"GENE-X fav","t":-2.181,"v":1.08},{"s":"GENE-X fav","t":-2.107,"v":0.9},{"s":"GENE-X fav","t":-1.984,"v":0.68},{"s":"GENE-X fav","t":-1.86,"v":0.51},{"s":"GENE-X fav","t":-1.713,"v":0.4},{"s":"GENE-X fav","t":-1.565,"v":0.32},{"s":"GENE-X fav","t":-1.343,"v":0.29},{"s":"GENE-X fav","t":-1.121,"v":0.28},{"s":"GENE-X fav","t":-0.875,"v":0.29},{"s":"GENE-X fav","t":-0.628,"v":0.32},{"s":"GENE-X fav","t":-0.48,"v":0.36},{"s":"GENE-X fav","t":-0.382,"v":0.34},{"s":"GENE-X fav","t":-0.283,"v":0.39},{"s":"GENE-X fav","t":-0.185,"v":0.32},{"s":"GENE-X fav","t":-0.086,"v":0.2},{"s":"GENE-X fav","t":0.012,"v":0.09},{"s":"GENE-X fav","t":0.185,"v":-0.1},{"s":"GENE-X fav","t":0.357,"v":-0.26},{"s":"GENE-X fav","t":0.48,"v":-0.34},{"s":"GENE-X fav","t":0.604,"v":-0.42},{"s":"GENE-X fav","t":0.727,"v":-0.5},{"s":"GENE-X fav","t":0.85,"v":-0.58},{"s":"GENE-X fav","t":0.973,"v":-0.67},{"s":"GENE-X fav","t":1.097,"v":-0.77},{"s":"GENE-X fav","t":1.244,"v":-0.95},{"s":"GENE-X fav","t":1.392,"v":-1.16},{"s":"GENE-X fav","t":1.491,"v":-1.36},{"s":"GENE-X fav","t":1.589,"v":-1.61},{"s":"GENE-X fav","t":1.688,"v":-1.92},{"s":"GENE-X fav","t":1.787,"v":-2.25},{"s":"GENE-X fav","t":1.885,"v":-2.62},{"s":"GENE-X fav","t":1.984,"v":-3.02},{"s":"GENE-X fav","t":2.057,"v":-3.42},{"s":"GENE-X fav","t":2.131,"v":-3.86},{"s":"GENE-X fav","t":2.205,"v":-4.2},{"s":"GENE-X fav","t":2.279,"v":-4.5},{"s":"GENE-X fav","t":2.353,"v":-4.66},{"s":"GENE-X fav","t":2.427,"v":-4.76},{"s":"GENE-X fav","t":2.476,"v":-4.72},{"s":"GENE-X fav","t":2.525,"v":-4.8},{"s":"GENE-X fav","t":2.575,"v":-4.76},{"s":"GENE-X fav","t":2.624,"v":-4.7},{"s":"GENE-X fav","t":2.674,"v":-4.62},{"s":"GENE-X fav","t":2.723,"v":-4.5},{"s":"GENE-X fav","t":2.772,"v":-4.2},{"s":"GENE-X fav","t":2.821,"v":-3.95},{"s":"GENE-X fav","t":2.871,"v":-3.66},{"s":"GENE-X fav","t":2.945,"v":-3.3},{"s":"GENE-X fav","t":3.019,"v":-2.77},{"s":"GENE-X fav","t":3.08,"v":-2.3},{"s":"GENE-X fav","t":3.142,"v":-1.74}
 ],
 "cm": [
{"s":"αᵤ⁽ˢˡ,ᴮ⁾ · 0.7","t":-2.526,"v":2.2},{"s":"αᵤ⁽ˢˡ,ᴮ⁾ · 0.7","t":-2.452,"v":1.75},{"s":"αᵤ⁽ˢˡ,ᴮ⁾ · 0.7","t":-2.353,"v":1.48},{"s":"αᵤ⁽ˢˡ,ᴮ⁾ · 0.7","t":-2.279,"v":1.3},{"s":"αᵤ⁽ˢˡ,ᴮ⁾ · 0.7","t":-2.205,"v":1.16},{"s":"αᵤ⁽ˢˡ,ᴮ⁾ · 0.7","t":-2.107,"v":0.93},{"s":"αᵤ⁽ˢˡ,ᴮ⁾ · 0.7","t":-2.008,"v":0.71},{"s":"αᵤ⁽ˢˡ,ᴮ⁾ · 0.7","t":-1.885,"v":0.58},{"s":"αᵤ⁽ˢˡ,ᴮ⁾ · 0.7","t":-1.762,"v":0.48},{"s":"αᵤ⁽ˢˡ,ᴮ⁾ · 0.7","t":-1.565,"v":0.42},{"s":"αᵤ⁽ˢˡ,ᴮ⁾ · 0.7","t":-1.367,"v":0.39},{"s":"αᵤ⁽ˢˡ,ᴮ⁾ · 0.7","t":-1.121,"v":0.39},{"s":"αᵤ⁽ˢˡ,ᴮ⁾ · 0.7","t":-0.875,"v":0.39},{"s":"αᵤ⁽ˢˡ,ᴮ⁾ · 0.7","t":-0.628,"v":0.38},{"s":"αᵤ⁽ˢˡ,ᴮ⁾ · 0.7","t":-0.382,"v":0.35},{"s":"αᵤ⁽ˢˡ,ᴮ⁾ · 0.7","t":-0.259,"v":0.28},{"s":"αᵤ⁽ˢˡ,ᴮ⁾ · 0.7","t":-0.136,"v":0.19},{"s":"αᵤ⁽ˢˡ,ᴮ⁾ · 0.7","t":0.012,"v":0.04},{"s":"αᵤ⁽ˢˡ,ᴮ⁾ · 0.7","t":0.111,"v":-0.06},{"s":"αᵤ⁽ˢˡ,ᴮ⁾ · 0.7","t":0.234,"v":-0.19},{"s":"αᵤ⁽ˢˡ,ᴮ⁾ · 0.7","t":0.357,"v":-0.32},{"s":"αᵤ⁽ˢˡ,ᴮ⁾ · 0.7","t":0.48,"v":-0.45},{"s":"αᵤ⁽ˢˡ,ᴮ⁾ · 0.7","t":0.604,"v":-0.58},{"s":"αᵤ⁽ˢˡ,ᴮ⁾ · 0.7","t":0.727,"v":-0.7},{"s":"αᵤ⁽ˢˡ,ᴮ⁾ · 0.7","t":0.85,"v":-0.81},{"s":"αᵤ⁽ˢˡ,ᴮ⁾ · 0.7","t":0.973,"v":-0.92},{"s":"αᵤ⁽ˢˡ,ᴮ⁾ · 0.7","t":1.097,"v":-1.03},{"s":"αᵤ⁽ˢˡ,ᴮ⁾ · 0.7","t":1.22,"v":-1.18},{"s":"αᵤ⁽ˢˡ,ᴮ⁾ · 0.7","t":1.343,"v":-1.35},{"s":"αᵤ⁽ˢˡ,ᴮ⁾ · 0.7","t":1.466,"v":-1.52},{"s":"αᵤ⁽ˢˡ,ᴮ⁾ · 0.7","t":1.589,"v":-1.74},{"s":"αᵤ⁽ˢˡ,ᴮ⁾ · 0.7","t":1.713,"v":-2.08},{"s":"αᵤ⁽ˢˡ,ᴮ⁾ · 0.7","t":1.836,"v":-2.51},{"s":"αᵤ⁽ˢˡ,ᴮ⁾ · 0.7","t":1.959,"v":-3.0},{"s":"αᵤ⁽ˢˡ,ᴮ⁾ · 0.7","t":2.082,"v":-3.54},{"s":"αᵤ⁽ˢˡ,ᴮ⁾ · 0.7","t":2.181,"v":-4.1},{"s":"αᵤ⁽ˢˡ,ᴮ⁾ · 0.7","t":2.279,"v":-4.69},{"s":"αᵤ⁽ˢˡ,ᴮ⁾ · 0.7","t":2.353,"v":-5.2},{"s":"αᵤ⁽ˢˡ,ᴮ⁾ · 0.7","t":2.427,"v":-5.72},{"s":"αᵤ⁽ˢˡ,ᴮ⁾ · 0.7","t":2.5,"v":-6.15},{"s":"αᵤ⁽ˢˡ,ᴮ⁾ · 0.7","t":2.56,"v":-6.38},{"s":"αᵤ⁽ˢˡ,ᴮ⁾ · 0.7","t":2.62,"v":-6.45},{"s":"αᵤ⁽ˢˡ,ᴮ⁾ · 0.7","t":2.68,"v":-6.4},{"s":"αᵤ⁽ˢˡ,ᴮ⁾ · 0.7","t":2.74,"v":-6.2},{"s":"αᵤ⁽ˢˡ,ᴮ⁾ · 0.7","t":2.8,"v":-5.9},{"s":"αᵤ⁽ˢˡ,ᴮ⁾ · 0.7","t":2.871,"v":-5.5},{"s":"αᵤ⁽ˢˡ,ᴮ⁾ · 0.7","t":2.969,"v":-4.95},{"s":"αᵤ⁽ˢˡ,ᴮ⁾ · 0.7","t":3.068,"v":-4.3},{"s":"αᵤ⁽ˢˡ,ᴮ⁾ · 0.7","t":3.142,"v":-3.79}
 ],
 "d": [
{"s":"GRILLIX fav","t":-3.142,"v":0.3},{"s":"GRILLIX fav","t":-2.255,"v":0.3},{"s":"GRILLIX fav","t":-2.156,"v":0.4},{"s":"GRILLIX fav","t":-2.057,"v":0.5},{"s":"GRILLIX fav","t":-1.959,"v":0.9},{"s":"GRILLIX fav","t":-1.86,"v":1.5},{"s":"GRILLIX fav","t":-1.762,"v":2.9},{"s":"GRILLIX fav","t":-1.663,"v":4.9},{"s":"GRILLIX fav","t":-1.565,"v":7.3},{"s":"GRILLIX fav","t":-1.466,"v":9.9},{"s":"GRILLIX fav","t":-1.367,"v":12.5},{"s":"GRILLIX fav","t":-1.269,"v":15},{"s":"GRILLIX fav","t":-1.17,"v":17.2},{"s":"GRILLIX fav","t":-1.072,"v":19.2},{"s":"GRILLIX fav","t":-0.973,"v":21},{"s":"GRILLIX fav","t":-0.875,"v":22.5},{"s":"GRILLIX fav","t":-0.776,"v":24.2},{"s":"GRILLIX fav","t":-0.678,"v":25.5},{"s":"GRILLIX fav","t":-0.579,"v":26.8},{"s":"GRILLIX fav","t":-0.48,"v":27.6},{"s":"GRILLIX fav","t":-0.382,"v":28},{"s":"GRILLIX fav","t":-0.283,"v":28.4},{"s":"GRILLIX fav","t":-0.185,"v":28.6},{"s":"GRILLIX fav","t":-0.086,"v":29.2},{"s":"GRILLIX fav","t":0.012,"v":29.8},{"s":"GRILLIX fav","t":0.111,"v":30.5},{"s":"GRILLIX fav","t":0.209,"v":31.2},{"s":"GRILLIX fav","t":0.259,"v":32},{"s":"GRILLIX fav","t":0.308,"v":31.8},{"s":"GRILLIX fav","t":0.357,"v":33.5},{"s":"GRILLIX fav","t":0.406,"v":34.7},{"s":"GRILLIX fav","t":0.456,"v":34.5},{"s":"GRILLIX fav","t":0.505,"v":35.1},{"s":"GRILLIX fav","t":0.554,"v":35.4},{"s":"GRILLIX fav","t":0.604,"v":35.1},{"s":"GRILLIX fav","t":0.653,"v":36.5},{"s":"GRILLIX fav","t":0.702,"v":38.5},{"s":"GRILLIX fav","t":0.752,"v":40.6},{"s":"GRILLIX fav","t":0.801,"v":40.3},{"s":"GRILLIX fav","t":0.85,"v":41.2},{"s":"GRILLIX fav","t":0.9,"v":41.4},{"s":"GRILLIX fav","t":0.949,"v":40.2},{"s":"GRILLIX fav","t":0.998,"v":41},{"s":"GRILLIX fav","t":1.047,"v":40.6},{"s":"GRILLIX fav","t":1.097,"v":40.8},{"s":"GRILLIX fav","t":1.146,"v":39.8},{"s":"GRILLIX fav","t":1.195,"v":39.7},{"s":"GRILLIX fav","t":1.244,"v":38},{"s":"GRILLIX fav","t":1.293,"v":36.8},{"s":"GRILLIX fav","t":1.343,"v":34.3},{"s":"GRILLIX fav","t":1.392,"v":32.5},{"s":"GRILLIX fav","t":1.441,"v":30.9},{"s":"GRILLIX fav","t":1.515,"v":28},{"s":"GRILLIX fav","t":1.589,"v":25},{"s":"GRILLIX fav","t":1.663,"v":22.5},{"s":"GRILLIX fav","t":1.737,"v":20},{"s":"GRILLIX fav","t":1.811,"v":16.7},{"s":"GRILLIX fav","t":1.885,"v":13.3},{"s":"GRILLIX fav","t":1.959,"v":10.5},{"s":"GRILLIX fav","t":2.033,"v":8.2},{"s":"GRILLIX fav","t":2.107,"v":6},{"s":"GRILLIX fav","t":2.181,"v":4.0},{"s":"GRILLIX fav","t":2.255,"v":2.8},{"s":"GRILLIX fav","t":2.329,"v":1.9},{"s":"GRILLIX fav","t":2.427,"v":1.2},{"s":"GRILLIX fav","t":2.525,"v":0.7},{"s":"GRILLIX fav","t":2.674,"v":0.45},{"s":"GRILLIX fav","t":2.821,"v":0.3},{"s":"GRILLIX fav","t":3.142,"v":0.3},
{"s":"GRILLIX unfav","t":-3.142,"v":4.9},{"s":"GRILLIX unfav","t":-3.093,"v":3.8},{"s":"GRILLIX unfav","t":-3.043,"v":2.8},{"s":"GRILLIX unfav","t":-2.97,"v":1.8},{"s":"GRILLIX unfav","t":-2.895,"v":1.1},{"s":"GRILLIX unfav","t":-2.821,"v":0.7},{"s":"GRILLIX unfav","t":-2.747,"v":0.5},{"s":"GRILLIX unfav","t":-2.6,"v":0.5},{"s":"GRILLIX unfav","t":-2.452,"v":0.7},{"s":"GRILLIX unfav","t":-2.353,"v":1.0},{"s":"GRILLIX unfav","t":-2.255,"v":1.5},{"s":"GRILLIX unfav","t":-2.181,"v":2.2},{"s":"GRILLIX unfav","t":-2.107,"v":3.2},{"s":"GRILLIX unfav","t":-2.033,"v":4.3},{"s":"GRILLIX unfav","t":-1.959,"v":5.7},{"s":"GRILLIX unfav","t":-1.885,"v":7.5},{"s":"GRILLIX unfav","t":-1.811,"v":9.5},{"s":"GRILLIX unfav","t":-1.737,"v":12},{"s":"GRILLIX unfav","t":-1.663,"v":15},{"s":"GRILLIX unfav","t":-1.613,"v":16.5},{"s":"GRILLIX unfav","t":-1.565,"v":17.6},{"s":"GRILLIX unfav","t":-1.515,"v":18.3},{"s":"GRILLIX unfav","t":-1.466,"v":19.5},{"s":"GRILLIX unfav","t":-1.417,"v":20.8},{"s":"GRILLIX unfav","t":-1.367,"v":22.1},{"s":"GRILLIX unfav","t":-1.318,"v":23.5},{"s":"GRILLIX unfav","t":-1.269,"v":24.6},{"s":"GRILLIX unfav","t":-1.22,"v":25.5},{"s":"GRILLIX unfav","t":-1.17,"v":25.8},{"s":"GRILLIX unfav","t":-1.121,"v":26.6},{"s":"GRILLIX unfav","t":-1.072,"v":27.1},{"s":"GRILLIX unfav","t":-1.023,"v":28},{"s":"GRILLIX unfav","t":-0.973,"v":28.6},{"s":"GRILLIX unfav","t":-0.949,"v":28.3},{"s":"GRILLIX unfav","t":-0.924,"v":28.9},{"s":"GRILLIX unfav","t":-0.9,"v":28.2},{"s":"GRILLIX unfav","t":-0.875,"v":28.8},{"s":"GRILLIX unfav","t":-0.825,"v":28.4},{"s":"GRILLIX unfav","t":-0.776,"v":27.5},{"s":"GRILLIX unfav","t":-0.727,"v":26.7},{"s":"GRILLIX unfav","t":-0.678,"v":25.4},{"s":"GRILLIX unfav","t":-0.628,"v":25.8},{"s":"GRILLIX unfav","t":-0.579,"v":25},{"s":"GRILLIX unfav","t":-0.53,"v":24.3},{"s":"GRILLIX unfav","t":-0.48,"v":24.6},{"s":"GRILLIX unfav","t":-0.431,"v":23.5},{"s":"GRILLIX unfav","t":-0.382,"v":23.8},{"s":"GRILLIX unfav","t":-0.333,"v":23.2},{"s":"GRILLIX unfav","t":-0.283,"v":23.6},{"s":"GRILLIX unfav","t":-0.234,"v":22.5},{"s":"GRILLIX unfav","t":-0.185,"v":23.4},{"s":"GRILLIX unfav","t":-0.136,"v":22.9},{"s":"GRILLIX unfav","t":-0.086,"v":23.8},{"s":"GRILLIX unfav","t":-0.037,"v":22.4},{"s":"GRILLIX unfav","t":0.012,"v":23.1},{"s":"GRILLIX unfav","t":0.062,"v":22.2},{"s":"GRILLIX unfav","t":0.111,"v":22.9},{"s":"GRILLIX unfav","t":0.16,"v":22.1},{"s":"GRILLIX unfav","t":0.209,"v":23},{"s":"GRILLIX unfav","t":0.259,"v":22.3},{"s":"GRILLIX unfav","t":0.308,"v":21.9},{"s":"GRILLIX unfav","t":0.357,"v":22.4},{"s":"GRILLIX unfav","t":0.407,"v":21.8},{"s":"GRILLIX unfav","t":0.456,"v":22.8},{"s":"GRILLIX unfav","t":0.505,"v":22.2},{"s":"GRILLIX unfav","t":0.554,"v":22.9},{"s":"GRILLIX unfav","t":0.604,"v":22.7},{"s":"GRILLIX unfav","t":0.653,"v":22},{"s":"GRILLIX unfav","t":0.702,"v":22.8},{"s":"GRILLIX unfav","t":0.752,"v":21.5},{"s":"GRILLIX unfav","t":0.801,"v":22.4},{"s":"GRILLIX unfav","t":0.85,"v":22.1},{"s":"GRILLIX unfav","t":0.9,"v":21.6},{"s":"GRILLIX unfav","t":0.949,"v":22.8},{"s":"GRILLIX unfav","t":0.998,"v":23.4},{"s":"GRILLIX unfav","t":1.047,"v":23.8},{"s":"GRILLIX unfav","t":1.097,"v":22.6},{"s":"GRILLIX unfav","t":1.146,"v":22.1},{"s":"GRILLIX unfav","t":1.195,"v":22.6},{"s":"GRILLIX unfav","t":1.244,"v":21.9},{"s":"GRILLIX unfav","t":1.294,"v":21.2},{"s":"GRILLIX unfav","t":1.343,"v":20.9},{"s":"GRILLIX unfav","t":1.392,"v":20.4},{"s":"GRILLIX unfav","t":1.441,"v":19.2},{"s":"GRILLIX unfav","t":1.491,"v":17.4},{"s":"GRILLIX unfav","t":1.54,"v":15.8},{"s":"GRILLIX unfav","t":1.589,"v":14.8},{"s":"GRILLIX unfav","t":1.639,"v":13.6},{"s":"GRILLIX unfav","t":1.688,"v":12.4},{"s":"GRILLIX unfav","t":1.737,"v":11.5},{"s":"GRILLIX unfav","t":1.787,"v":10.1},{"s":"GRILLIX unfav","t":1.836,"v":8.9},{"s":"GRILLIX unfav","t":1.885,"v":7.8},{"s":"GRILLIX unfav","t":1.934,"v":6.6},{"s":"GRILLIX unfav","t":1.984,"v":5.8},{"s":"GRILLIX unfav","t":2.033,"v":5.2},{"s":"GRILLIX unfav","t":2.082,"v":4.9},{"s":"GRILLIX unfav","t":2.18,"v":4.3},{"s":"GRILLIX unfav","t":2.279,"v":4.0},{"s":"GRILLIX unfav","t":2.378,"v":4.1},{"s":"GRILLIX unfav","t":2.476,"v":4.2},{"s":"GRILLIX unfav","t":2.575,"v":4.6},{"s":"GRILLIX unfav","t":2.674,"v":5.3},{"s":"GRILLIX unfav","t":2.747,"v":6.2},{"s":"GRILLIX unfav","t":2.821,"v":7.4},{"s":"GRILLIX unfav","t":2.871,"v":7.8},{"s":"GRILLIX unfav","t":2.92,"v":7.9},{"s":"GRILLIX unfav","t":2.969,"v":7.6},{"s":"GRILLIX unfav","t":3.019,"v":7.8},{"s":"GRILLIX unfav","t":3.068,"v":6.7},{"s":"GRILLIX unfav","t":3.11,"v":5.9},{"s":"GRILLIX unfav","t":3.142,"v":4.9},
{"s":"GENE-X fav","t":-3.142,"v":0.3},{"s":"GENE-X fav","t":-2.255,"v":0.3},{"s":"GENE-X fav","t":-2.107,"v":0.45},{"s":"GENE-X fav","t":-1.959,"v":0.7},{"s":"GENE-X fav","t":-1.811,"v":1.4},{"s":"GENE-X fav","t":-1.663,"v":2.4},{"s":"GENE-X fav","t":-1.589,"v":3.0},{"s":"GENE-X fav","t":-1.515,"v":3.6},{"s":"GENE-X fav","t":-1.441,"v":5.2},{"s":"GENE-X fav","t":-1.367,"v":7.0},{"s":"GENE-X fav","t":-1.294,"v":8.6},{"s":"GENE-X fav","t":-1.244,"v":9.8},{"s":"GENE-X fav","t":-1.22,"v":10.3},{"s":"GENE-X fav","t":-1.195,"v":9.6},{"s":"GENE-X fav","t":-1.17,"v":11.4},{"s":"GENE-X fav","t":-1.121,"v":12.4},{"s":"GENE-X fav","t":-1.097,"v":11.5},{"s":"GENE-X fav","t":-1.072,"v":14.5},{"s":"GENE-X fav","t":-1.047,"v":15.2},{"s":"GENE-X fav","t":-1.023,"v":17.5},{"s":"GENE-X fav","t":-0.998,"v":16.4},{"s":"GENE-X fav","t":-0.973,"v":19.5},{"s":"GENE-X fav","t":-0.945,"v":22.9},{"s":"GENE-X fav","t":-0.91,"v":18.9},{"s":"GENE-X fav","t":-0.875,"v":25},{"s":"GENE-X fav","t":-0.84,"v":21.8},{"s":"GENE-X fav","t":-0.806,"v":28.5},{"s":"GENE-X fav","t":-0.771,"v":25.1},{"s":"GENE-X fav","t":-0.736,"v":30.6},{"s":"GENE-X fav","t":-0.702,"v":26.5},{"s":"GENE-X fav","t":-0.667,"v":31.8},{"s":"GENE-X fav","t":-0.632,"v":27.5},{"s":"GENE-X fav","t":-0.597,"v":34},{"s":"GENE-X fav","t":-0.563,"v":28.2},{"s":"GENE-X fav","t":-0.528,"v":35.3},{"s":"GENE-X fav","t":-0.493,"v":29.3},{"s":"GENE-X fav","t":-0.458,"v":36.4},{"s":"GENE-X fav","t":-0.424,"v":30.1},{"s":"GENE-X fav","t":-0.389,"v":37.9},{"s":"GENE-X fav","t":-0.354,"v":30.6},{"s":"GENE-X fav","t":-0.319,"v":38.6},{"s":"GENE-X fav","t":-0.285,"v":31},{"s":"GENE-X fav","t":-0.25,"v":39.5},{"s":"GENE-X fav","t":-0.215,"v":31.7},{"s":"GENE-X fav","t":-0.18,"v":40.6},{"s":"GENE-X fav","t":-0.146,"v":32.2},{"s":"GENE-X fav","t":-0.111,"v":41.6},{"s":"GENE-X fav","t":-0.076,"v":32.6},{"s":"GENE-X fav","t":-0.041,"v":42.7},{"s":"GENE-X fav","t":-0.007,"v":32.9},{"s":"GENE-X fav","t":0.028,"v":43.7},{"s":"GENE-X fav","t":0.063,"v":33.3},{"s":"GENE-X fav","t":0.098,"v":44.4},{"s":"GENE-X fav","t":0.132,"v":33.6},{"s":"GENE-X fav","t":0.167,"v":45.4},{"s":"GENE-X fav","t":0.202,"v":34},{"s":"GENE-X fav","t":0.237,"v":46.3},{"s":"GENE-X fav","t":0.271,"v":34.6},{"s":"GENE-X fav","t":0.306,"v":47},{"s":"GENE-X fav","t":0.341,"v":35.3},{"s":"GENE-X fav","t":0.376,"v":47.3},{"s":"GENE-X fav","t":0.41,"v":36},{"s":"GENE-X fav","t":0.445,"v":48},{"s":"GENE-X fav","t":0.48,"v":36.7},{"s":"GENE-X fav","t":0.514,"v":47.5},{"s":"GENE-X fav","t":0.549,"v":37.2},{"s":"GENE-X fav","t":0.584,"v":46},{"s":"GENE-X fav","t":0.619,"v":37.1},{"s":"GENE-X fav","t":0.653,"v":44},{"s":"GENE-X fav","t":0.688,"v":35.4},{"s":"GENE-X fav","t":0.723,"v":41},{"s":"GENE-X fav","t":0.758,"v":34},{"s":"GENE-X fav","t":0.792,"v":38},{"s":"GENE-X fav","t":0.827,"v":32.5},{"s":"GENE-X fav","t":0.862,"v":35},{"s":"GENE-X fav","t":0.897,"v":31},{"s":"GENE-X fav","t":0.93,"v":32},{"s":"GENE-X fav","t":0.998,"v":28.4},{"s":"GENE-X fav","t":1.047,"v":26.3},{"s":"GENE-X fav","t":1.097,"v":23.4},{"s":"GENE-X fav","t":1.146,"v":20.4},{"s":"GENE-X fav","t":1.195,"v":18.3},{"s":"GENE-X fav","t":1.244,"v":16.5},{"s":"GENE-X fav","t":1.294,"v":15},{"s":"GENE-X fav","t":1.343,"v":13.3},{"s":"GENE-X fav","t":1.392,"v":12.4},{"s":"GENE-X fav","t":1.441,"v":10.3},{"s":"GENE-X fav","t":1.491,"v":8.2},{"s":"GENE-X fav","t":1.589,"v":5.7},{"s":"GENE-X fav","t":1.688,"v":4.5},{"s":"GENE-X fav","t":1.836,"v":2.8},{"s":"GENE-X fav","t":2.082,"v":1.1},{"s":"GENE-X fav","t":2.329,"v":0.5},{"s":"GENE-X fav","t":2.6,"v":0.35},{"s":"GENE-X fav","t":3.142,"v":0.3}
 ],
 "e": [
{"s":"GRILLIX fav","t":-3.142,"v":0.77},{"s":"GRILLIX fav","t":-3.043,"v":0.98},{"s":"GRILLIX fav","t":-2.945,"v":1.21},{"s":"GRILLIX fav","t":-2.846,"v":1.45},{"s":"GRILLIX fav","t":-2.747,"v":1.69},{"s":"GRILLIX fav","t":-2.649,"v":1.92},{"s":"GRILLIX fav","t":-2.55,"v":2.18},{"s":"GRILLIX fav","t":-2.477,"v":2.45},{"s":"GRILLIX fav","t":-2.403,"v":2.76},{"s":"GRILLIX fav","t":-2.353,"v":3.2},{"s":"GRILLIX fav","t":-2.304,"v":3.83},{"s":"GRILLIX fav","t":-2.255,"v":4.3},{"s":"GRILLIX fav","t":-2.205,"v":4.7},{"s":"GRILLIX fav","t":-2.131,"v":5.2},{"s":"GRILLIX fav","t":-2.057,"v":5.57},{"s":"GRILLIX fav","t":-1.984,"v":5.7},{"s":"GRILLIX fav","t":-1.91,"v":5.71},{"s":"GRILLIX fav","t":-1.836,"v":5.62},{"s":"GRILLIX fav","t":-1.762,"v":5.47},{"s":"GRILLIX fav","t":-1.664,"v":5.15},{"s":"GRILLIX fav","t":-1.565,"v":4.79},{"s":"GRILLIX fav","t":-1.466,"v":4.55},{"s":"GRILLIX fav","t":-1.367,"v":4.31},{"s":"GRILLIX fav","t":-1.244,"v":4.0},{"s":"GRILLIX fav","t":-1.121,"v":3.73},{"s":"GRILLIX fav","t":-0.998,"v":3.48},{"s":"GRILLIX fav","t":-0.875,"v":3.24},{"s":"GRILLIX fav","t":-0.752,"v":2.95},{"s":"GRILLIX fav","t":-0.628,"v":2.66},{"s":"GRILLIX fav","t":-0.505,"v":2.36},{"s":"GRILLIX fav","t":-0.382,"v":2.08},{"s":"GRILLIX fav","t":-0.259,"v":1.86},{"s":"GRILLIX fav","t":-0.136,"v":1.69},{"s":"GRILLIX fav","t":-0.062,"v":1.58},{"s":"GRILLIX fav","t":0.012,"v":1.5},{"s":"GRILLIX fav","t":0.111,"v":1.45},{"s":"GRILLIX fav","t":0.209,"v":1.45},{"s":"GRILLIX fav","t":0.308,"v":1.46},{"s":"GRILLIX fav","t":0.407,"v":1.5},{"s":"GRILLIX fav","t":0.505,"v":1.66},{"s":"GRILLIX fav","t":0.604,"v":1.89},{"s":"GRILLIX fav","t":0.727,"v":2.1},{"s":"GRILLIX fav","t":0.85,"v":2.28},{"s":"GRILLIX fav","t":0.973,"v":2.44},{"s":"GRILLIX fav","t":1.097,"v":2.57},{"s":"GRILLIX fav","t":1.195,"v":2.6},{"s":"GRILLIX fav","t":1.294,"v":2.62},{"s":"GRILLIX fav","t":1.392,"v":2.55},{"s":"GRILLIX fav","t":1.491,"v":2.47},{"s":"GRILLIX fav","t":1.589,"v":2.3},{"s":"GRILLIX fav","t":1.688,"v":2.08},{"s":"GRILLIX fav","t":1.787,"v":1.8},{"s":"GRILLIX fav","t":1.885,"v":1.5},{"s":"GRILLIX fav","t":1.984,"v":1.28},{"s":"GRILLIX fav","t":2.082,"v":1.11},{"s":"GRILLIX fav","t":2.181,"v":0.95},{"s":"GRILLIX fav","t":2.279,"v":0.82},{"s":"GRILLIX fav","t":2.378,"v":0.71},{"s":"GRILLIX fav","t":2.476,"v":0.63},{"s":"GRILLIX fav","t":2.575,"v":0.6},{"s":"GRILLIX fav","t":2.674,"v":0.58},{"s":"GRILLIX fav","t":2.772,"v":0.59},{"s":"GRILLIX fav","t":2.871,"v":0.61},{"s":"GRILLIX fav","t":2.969,"v":0.64},{"s":"GRILLIX fav","t":3.068,"v":0.71},{"s":"GRILLIX fav","t":3.142,"v":0.77},
{"s":"GRILLIX unfav","t":-3.142,"v":2.59},{"s":"GRILLIX unfav","t":-3.093,"v":2.55},{"s":"GRILLIX unfav","t":-3.043,"v":2.52},{"s":"GRILLIX unfav","t":-2.994,"v":2.52},{"s":"GRILLIX unfav","t":-2.945,"v":2.48},{"s":"GRILLIX unfav","t":-2.896,"v":2.5},{"s":"GRILLIX unfav","t":-2.846,"v":2.47},{"s":"GRILLIX unfav","t":-2.772,"v":2.4},{"s":"GRILLIX unfav","t":-2.698,"v":2.32},{"s":"GRILLIX unfav","t":-2.624,"v":2.28},{"s":"GRILLIX unfav","t":-2.55,"v":2.23},{"s":"GRILLIX unfav","t":-2.501,"v":2.2},{"s":"GRILLIX unfav","t":-2.452,"v":2.37},{"s":"GRILLIX unfav","t":-2.403,"v":2.65},{"s":"GRILLIX unfav","t":-2.353,"v":2.95},{"s":"GRILLIX unfav","t":-2.304,"v":3.2},{"s":"GRILLIX unfav","t":-2.255,"v":3.44},{"s":"GRILLIX unfav","t":-2.156,"v":3.65},{"s":"GRILLIX unfav","t":-2.057,"v":3.83},{"s":"GRILLIX unfav","t":-1.959,"v":4.02},{"s":"GRILLIX unfav","t":-1.86,"v":4.21},{"s":"GRILLIX unfav","t":-1.787,"v":4.35},{"s":"GRILLIX unfav","t":-1.713,"v":4.46},{"s":"GRILLIX unfav","t":-1.664,"v":4.4},{"s":"GRILLIX unfav","t":-1.639,"v":4.3},{"s":"GRILLIX unfav","t":-1.589,"v":4.26},{"s":"GRILLIX unfav","t":-1.54,"v":4.2},{"s":"GRILLIX unfav","t":-1.466,"v":4.12},{"s":"GRILLIX unfav","t":-1.367,"v":3.9},{"s":"GRILLIX unfav","t":-1.269,"v":3.63},{"s":"GRILLIX unfav","t":-1.17,"v":3.4},{"s":"GRILLIX unfav","t":-1.072,"v":3.15},{"s":"GRILLIX unfav","t":-0.973,"v":2.8},{"s":"GRILLIX unfav","t":-0.875,"v":2.47},{"s":"GRILLIX unfav","t":-0.776,"v":2.2},{"s":"GRILLIX unfav","t":-0.678,"v":1.99},{"s":"GRILLIX unfav","t":-0.579,"v":1.78},{"s":"GRILLIX unfav","t":-0.48,"v":1.6},{"s":"GRILLIX unfav","t":-0.382,"v":1.48},{"s":"GRILLIX unfav","t":-0.283,"v":1.4},{"s":"GRILLIX unfav","t":-0.234,"v":1.35},{"s":"GRILLIX unfav","t":-0.185,"v":1.38},{"s":"GRILLIX unfav","t":-0.136,"v":1.33},{"s":"GRILLIX unfav","t":-0.086,"v":1.36},{"s":"GRILLIX unfav","t":-0.037,"v":1.38},{"s":"GRILLIX unfav","t":0.012,"v":1.42},{"s":"GRILLIX unfav","t":0.062,"v":1.45},{"s":"GRILLIX unfav","t":0.111,"v":1.5},{"s":"GRILLIX unfav","t":0.234,"v":1.62},{"s":"GRILLIX unfav","t":0.357,"v":1.79},{"s":"GRILLIX unfav","t":0.48,"v":1.98},{"s":"GRILLIX unfav","t":0.604,"v":2.18},{"s":"GRILLIX unfav","t":0.727,"v":2.38},{"s":"GRILLIX unfav","t":0.85,"v":2.57},{"s":"GRILLIX unfav","t":0.973,"v":2.72},{"s":"GRILLIX unfav","t":1.047,"v":2.82},{"s":"GRILLIX unfav","t":1.097,"v":2.86},{"s":"GRILLIX unfav","t":1.146,"v":2.75},{"s":"GRILLIX unfav","t":1.195,"v":2.84},{"s":"GRILLIX unfav","t":1.244,"v":2.78},{"s":"GRILLIX unfav","t":1.294,"v":2.81},{"s":"GRILLIX unfav","t":1.343,"v":2.75},{"s":"GRILLIX unfav","t":1.392,"v":2.76},{"s":"GRILLIX unfav","t":1.441,"v":2.71},{"s":"GRILLIX unfav","t":1.491,"v":2.6},{"s":"GRILLIX unfav","t":1.54,"v":2.55},{"s":"GRILLIX unfav","t":1.589,"v":2.47},{"s":"GRILLIX unfav","t":1.639,"v":2.38},{"s":"GRILLIX unfav","t":1.688,"v":2.25},{"s":"GRILLIX unfav","t":1.737,"v":2.15},{"s":"GRILLIX unfav","t":1.787,"v":2.08},{"s":"GRILLIX unfav","t":1.836,"v":1.92},{"s":"GRILLIX unfav","t":1.885,"v":1.9},{"s":"GRILLIX unfav","t":1.934,"v":1.84},{"s":"GRILLIX unfav","t":1.984,"v":1.75},{"s":"GRILLIX unfav","t":2.033,"v":1.72},{"s":"GRILLIX unfav","t":2.082,"v":1.69},{"s":"GRILLIX unfav","t":2.131,"v":1.75},{"s":"GRILLIX unfav","t":2.181,"v":1.89},{"s":"GRILLIX unfav","t":2.23,"v":2.2},{"s":"GRILLIX unfav","t":2.279,"v":2.47},{"s":"GRILLIX unfav","t":2.329,"v":2.6},{"s":"GRILLIX unfav","t":2.378,"v":2.62},{"s":"GRILLIX unfav","t":2.427,"v":2.76},{"s":"GRILLIX unfav","t":2.476,"v":2.72},{"s":"GRILLIX unfav","t":2.525,"v":2.85},{"s":"GRILLIX unfav","t":2.575,"v":2.86},{"s":"GRILLIX unfav","t":2.624,"v":2.9},{"s":"GRILLIX unfav","t":2.674,"v":2.95},{"s":"GRILLIX unfav","t":2.723,"v":3.0},{"s":"GRILLIX unfav","t":2.772,"v":2.98},{"s":"GRILLIX unfav","t":2.821,"v":3.08},{"s":"GRILLIX unfav","t":2.871,"v":3.1},{"s":"GRILLIX unfav","t":2.92,"v":3.02},{"s":"GRILLIX unfav","t":2.969,"v":2.95},{"s":"GRILLIX unfav","t":3.019,"v":2.9},{"s":"GRILLIX unfav","t":3.068,"v":2.81},{"s":"GRILLIX unfav","t":3.11,"v":2.72},{"s":"GRILLIX unfav","t":3.142,"v":2.61},
{"s":"GENE-X fav","t":-3.142,"v":0.48},{"s":"GENE-X fav","t":-2.945,"v":0.58},{"s":"GENE-X fav","t":-2.747,"v":0.77},{"s":"GENE-X fav","t":-2.55,"v":1.11},{"s":"GENE-X fav","t":-2.403,"v":1.5},{"s":"GENE-X fav","t":-2.279,"v":1.99},{"s":"GENE-X fav","t":-2.205,"v":2.4},{"s":"GENE-X fav","t":-2.156,"v":2.86},{"s":"GENE-X fav","t":-2.082,"v":3.4},{"s":"GENE-X fav","t":-2.008,"v":3.73},{"s":"GENE-X fav","t":-1.934,"v":3.95},{"s":"GENE-X fav","t":-1.86,"v":4.31},{"s":"GENE-X fav","t":-1.787,"v":4.75},{"s":"GENE-X fav","t":-1.713,"v":5.18},{"s":"GENE-X fav","t":-1.639,"v":5.35},{"s":"GENE-X fav","t":-1.589,"v":5.45},{"s":"GENE-X fav","t":-1.565,"v":5.52},{"s":"GENE-X fav","t":-1.54,"v":5.2},{"s":"GENE-X fav","t":-1.515,"v":5.0},{"s":"GENE-X fav","t":-1.466,"v":4.94},{"s":"GENE-X fav","t":-1.417,"v":4.95},{"s":"GENE-X fav","t":-1.367,"v":4.88},{"s":"GENE-X fav","t":-1.318,"v":4.89},{"s":"GENE-X fav","t":-1.294,"v":4.7},{"s":"GENE-X fav","t":-1.269,"v":4.75},{"s":"GENE-X fav","t":-1.244,"v":4.65},{"s":"GENE-X fav","t":-1.22,"v":4.8},{"s":"GENE-X fav","t":-1.195,"v":5.08},{"s":"GENE-X fav","t":-1.17,"v":4.7},{"s":"GENE-X fav","t":-1.146,"v":4.4},{"s":"GENE-X fav","t":-1.121,"v":4.3},{"s":"GENE-X fav","t":-1.072,"v":4.12},{"s":"GENE-X fav","t":-1.023,"v":4.0},{"s":"GENE-X fav","t":-0.973,"v":3.9},{"s":"GENE-X fav","t":-0.924,"v":3.8},{"s":"GENE-X fav","t":-0.875,"v":3.73},{"s":"GENE-X fav","t":-0.826,"v":3.5},{"s":"GENE-X fav","t":-0.776,"v":3.45},{"s":"GENE-X fav","t":-0.752,"v":3.2},{"s":"GENE-X fav","t":-0.727,"v":3.3},{"s":"GENE-X fav","t":-0.678,"v":3.05},{"s":"GENE-X fav","t":-0.653,"v":3.1},{"s":"GENE-X fav","t":-0.628,"v":2.8},{"s":"GENE-X fav","t":-0.604,"v":2.9},{"s":"GENE-X fav","t":-0.579,"v":2.6},{"s":"GENE-X fav","t":-0.555,"v":2.72},{"s":"GENE-X fav","t":-0.53,"v":2.45},{"s":"GENE-X fav","t":-0.505,"v":2.55},{"s":"GENE-X fav","t":-0.48,"v":2.35},{"s":"GENE-X fav","t":-0.456,"v":2.45},{"s":"GENE-X fav","t":-0.431,"v":2.2},{"s":"GENE-X fav","t":-0.407,"v":2.35},{"s":"GENE-X fav","t":-0.382,"v":2.15},{"s":"GENE-X fav","t":-0.357,"v":2.25},{"s":"GENE-X fav","t":-0.333,"v":2.05},{"s":"GENE-X fav","t":-0.308,"v":2.2},{"s":"GENE-X fav","t":-0.284,"v":2.0},{"s":"GENE-X fav","t":-0.259,"v":2.15},{"s":"GENE-X fav","t":-0.234,"v":1.95},{"s":"GENE-X fav","t":-0.209,"v":2.12},{"s":"GENE-X fav","t":-0.185,"v":2.0},{"s":"GENE-X fav","t":-0.16,"v":2.15},{"s":"GENE-X fav","t":-0.136,"v":1.95},{"s":"GENE-X fav","t":-0.111,"v":2.1},{"s":"GENE-X fav","t":-0.086,"v":2.0},{"s":"GENE-X fav","t":-0.062,"v":2.12},{"s":"GENE-X fav","t":-0.037,"v":1.95},{"s":"GENE-X fav","t":-0.012,"v":2.05},{"s":"GENE-X fav","t":0.012,"v":1.84},{"s":"GENE-X fav","t":0.037,"v":2.0},{"s":"GENE-X fav","t":0.062,"v":2.1},{"s":"GENE-X fav","t":0.086,"v":1.95},{"s":"GENE-X fav","t":0.111,"v":2.15},{"s":"GENE-X fav","t":0.136,"v":2.0},{"s":"GENE-X fav","t":0.16,"v":2.12},{"s":"GENE-X fav","t":0.185,"v":1.98},{"s":"GENE-X fav","t":0.209,"v":2.15},{"s":"GENE-X fav","t":0.234,"v":2.0},{"s":"GENE-X fav","t":0.259,"v":2.2},{"s":"GENE-X fav","t":0.283,"v":2.05},{"s":"GENE-X fav","t":0.308,"v":2.15},{"s":"GENE-X fav","t":0.333,"v":2.05},{"s":"GENE-X fav","t":0.357,"v":2.2},{"s":"GENE-X fav","t":0.382,"v":2.1},{"s":"GENE-X fav","t":0.407,"v":2.25},{"s":"GENE-X fav","t":0.431,"v":2.15},{"s":"GENE-X fav","t":0.456,"v":2.4},{"s":"GENE-X fav","t":0.48,"v":2.3},{"s":"GENE-X fav","t":0.505,"v":2.5},{"s":"GENE-X fav","t":0.53,"v":2.4},{"s":"GENE-X fav","t":0.554,"v":2.6},{"s":"GENE-X fav","t":0.579,"v":2.5},{"s":"GENE-X fav","t":0.604,"v":2.7},{"s":"GENE-X fav","t":0.628,"v":2.6},{"s":"GENE-X fav","t":0.653,"v":2.8},{"s":"GENE-X fav","t":0.678,"v":2.7},{"s":"GENE-X fav","t":0.702,"v":2.92},{"s":"GENE-X fav","t":0.727,"v":2.8},{"s":"GENE-X fav","t":0.752,"v":2.98},{"s":"GENE-X fav","t":0.776,"v":2.88},{"s":"GENE-X fav","t":0.801,"v":3.05},{"s":"GENE-X fav","t":0.825,"v":2.95},{"s":"GENE-X fav","t":0.85,"v":3.1},{"s":"GENE-X fav","t":0.875,"v":3.0},{"s":"GENE-X fav","t":0.9,"v":3.15},{"s":"GENE-X fav","t":0.924,"v":3.05},{"s":"GENE-X fav","t":0.949,"v":3.2},{"s":"GENE-X fav","t":0.973,"v":3.12},{"s":"GENE-X fav","t":0.998,"v":3.25},{"s":"GENE-X fav","t":1.022,"v":3.18},{"s":"GENE-X fav","t":1.047,"v":3.3},{"s":"GENE-X fav","t":1.072,"v":3.22},{"s":"GENE-X fav","t":1.097,"v":3.34},{"s":"GENE-X fav","t":1.121,"v":3.2},{"s":"GENE-X fav","t":1.146,"v":3.3},{"s":"GENE-X fav","t":1.195,"v":3.15},{"s":"GENE-X fav","t":1.244,"v":3.1},{"s":"GENE-X fav","t":1.294,"v":3.05},{"s":"GENE-X fav","t":1.343,"v":3.0},{"s":"GENE-X fav","t":1.392,"v":2.95},{"s":"GENE-X fav","t":1.441,"v":2.78},{"s":"GENE-X fav","t":1.491,"v":2.6},{"s":"GENE-X fav","t":1.54,"v":2.45},{"s":"GENE-X fav","t":1.589,"v":2.3},{"s":"GENE-X fav","t":1.663,"v":2.05},{"s":"GENE-X fav","t":1.737,"v":1.8},{"s":"GENE-X fav","t":1.836,"v":1.5},{"s":"GENE-X fav","t":1.934,"v":1.16},{"s":"GENE-X fav","t":2.033,"v":0.9},{"s":"GENE-X fav","t":2.131,"v":0.7},{"s":"GENE-X fav","t":2.279,"v":0.5},{"s":"GENE-X fav","t":2.427,"v":0.44},{"s":"GENE-X fav","t":2.575,"v":0.42},{"s":"GENE-X fav","t":2.723,"v":0.41},{"s":"GENE-X fav","t":2.871,"v":0.38},{"s":"GENE-X fav","t":2.92,"v":0.36},{"s":"GENE-X fav","t":3.019,"v":0.4},{"s":"GENE-X fav","t":3.08,"v":0.44},{"s":"GENE-X fav","t":3.142,"v":0.48}
 ],
 "em": [
{"s":"k̂ᵧ⁽ᴮ⁾","t":-3.142,"v":3.92},{"s":"k̂ᵧ⁽ᴮ⁾","t":-3.043,"v":4.89},{"s":"k̂ᵧ⁽ᴮ⁾","t":-2.945,"v":5.76},{"s":"k̂ᵧ⁽ᴮ⁾","t":-2.88,"v":6.35},{"s":"k̂ᵧ⁽ᴮ⁾","t":-2.75,"v":7.3},{"s":"k̂ᵧ⁽ᴮ⁾","t":-2.5,"v":8.6},{"s":"k̂ᵧ⁽ᴮ⁾","t":-2.2,"v":9.2},{"s":"k̂ᵧ⁽ᴮ⁾","t":-1.9,"v":8.6},{"s":"k̂ᵧ⁽ᴮ⁾","t":-1.7,"v":7.6},{"s":"k̂ᵧ⁽ᴮ⁾","t":-1.55,"v":6.6},{"s":"k̂ᵧ⁽ᴮ⁾","t":-1.466,"v":5.96},{"s":"k̂ᵧ⁽ᴮ⁾","t":-1.367,"v":5.18},{"s":"k̂ᵧ⁽ᴮ⁾","t":-1.294,"v":4.7},{"s":"k̂ᵧ⁽ᴮ⁾","t":-1.22,"v":4.31},{"s":"k̂ᵧ⁽ᴮ⁾","t":-1.146,"v":3.9},{"s":"k̂ᵧ⁽ᴮ⁾","t":-1.072,"v":3.54},{"s":"k̂ᵧ⁽ᴮ⁾","t":-0.973,"v":3.05},{"s":"k̂ᵧ⁽ᴮ⁾","t":-0.875,"v":2.66},{"s":"k̂ᵧ⁽ᴮ⁾","t":-0.752,"v":2.3},{"s":"k̂ᵧ⁽ᴮ⁾","t":-0.628,"v":1.99},{"s":"k̂ᵧ⁽ᴮ⁾","t":-0.505,"v":1.78},{"s":"k̂ᵧ⁽ᴮ⁾","t":-0.382,"v":1.6},{"s":"k̂ᵧ⁽ᴮ⁾","t":-0.259,"v":1.5},{"s":"k̂ᵧ⁽ᴮ⁾","t":-0.136,"v":1.45},{"s":"k̂ᵧ⁽ᴮ⁾","t":-0.012,"v":1.43},{"s":"k̂ᵧ⁽ᴮ⁾","t":0.111,"v":1.45},{"s":"k̂ᵧ⁽ᴮ⁾","t":0.234,"v":1.5},{"s":"k̂ᵧ⁽ᴮ⁾","t":0.357,"v":1.6},{"s":"k̂ᵧ⁽ᴮ⁾","t":0.48,"v":1.75},{"s":"k̂ᵧ⁽ᴮ⁾","t":0.604,"v":1.94},{"s":"k̂ᵧ⁽ᴮ⁾","t":0.727,"v":2.15},{"s":"k̂ᵧ⁽ᴮ⁾","t":0.85,"v":2.37},{"s":"k̂ᵧ⁽ᴮ⁾","t":0.973,"v":2.62},{"s":"k̂ᵧ⁽ᴮ⁾","t":1.097,"v":2.86},{"s":"k̂ᵧ⁽ᴮ⁾","t":1.22,"v":3.08},{"s":"k̂ᵧ⁽ᴮ⁾","t":1.343,"v":3.3},{"s":"k̂ᵧ⁽ᴮ⁾","t":1.466,"v":3.48},{"s":"k̂ᵧ⁽ᴮ⁾","t":1.589,"v":3.56},{"s":"k̂ᵧ⁽ᴮ⁾","t":1.663,"v":3.55},{"s":"k̂ᵧ⁽ᴮ⁾","t":1.737,"v":3.5},{"s":"k̂ᵧ⁽ᴮ⁾","t":1.811,"v":3.35},{"s":"k̂ᵧ⁽ᴮ⁾","t":1.885,"v":3.15},{"s":"k̂ᵧ⁽ᴮ⁾","t":1.984,"v":2.9},{"s":"k̂ᵧ⁽ᴮ⁾","t":2.082,"v":2.66},{"s":"k̂ᵧ⁽ᴮ⁾","t":2.181,"v":2.42},{"s":"k̂ᵧ⁽ᴮ⁾","t":2.279,"v":2.22},{"s":"k̂ᵧ⁽ᴮ⁾","t":2.378,"v":2.07},{"s":"k̂ᵧ⁽ᴮ⁾","t":2.476,"v":1.98},{"s":"k̂ᵧ⁽ᴮ⁾","t":2.575,"v":1.96},{"s":"k̂ᵧ⁽ᴮ⁾","t":2.674,"v":2.02},{"s":"k̂ᵧ⁽ᴮ⁾","t":2.772,"v":2.25},{"s":"k̂ᵧ⁽ᴮ⁾","t":2.846,"v":2.45},{"s":"k̂ᵧ⁽ᴮ⁾","t":2.92,"v":2.7},{"s":"k̂ᵧ⁽ᴮ⁾","t":2.994,"v":2.95},{"s":"k̂ᵧ⁽ᴮ⁾","t":3.068,"v":3.25},{"s":"k̂ᵧ⁽ᴮ⁾","t":3.142,"v":3.65}
 ]
},
"spacing": 26,
"bounds": "flush",
"resolve": {"scale": {"y": "independent", "color": "independent", "strokeDash": "independent"}, "legend": {"color": "independent", "strokeDash": "independent"}},
"vconcat": [
 {
  "width": 523, "height": 207,
  "title": {"text": "TCV-X21, ρₚₒₗ = 0.99", "fontSize": 25, "fontWeight": "normal", "font": "DejaVu Sans", "color": "black", "anchor": "middle", "frame": "group", "offset": 8},
  "layer": [
   {"data": {"name": "a"}, "mark": {"type": "line", "strokeWidth": 3, "clip": true},
    "encoding": {
     "x": {"field": "t", "type": "quantitative", "scale": {"domain": [-3.14159, 3.14159], "nice": false, "zero": false}, "axis": {"values": [-3.14159, -1.5708, 0, 1.5708, 3.14159], "labels": false, "title": null}},
     "y": {"field": "v", "type": "quantitative", "scale": {"domain": [-2.92, 1.48], "nice": false, "zero": false}, "axis": {"values": [-2, 0], "title": "⟨ũₓũᵧ⟩ₜ [km²/s²]"}},
     "color": {"field": "s", "type": "nominal", "sort": null, "scale": {"domain": ["GRILLIX fav", "GRILLIX unfav", "GENE-X fav"], "range": ["#006e60", "#f28100", "#00b1ea"]}, "legend": {"orient": "bottom-left", "offset": 9, "symbolSize": 2025, "clipHeight": 24, "rowPadding": 7, "padding": 6}}
    }},
   {"data": {"name": "xa"}, "mark": {"type": "rule", "color": "black", "strokeWidth": 3, "strokeDash": [11, 5]}, "encoding": {"x": {"field": "t", "type": "quantitative"}}},
   {"data": {"name": "xs"}, "mark": {"type": "rule", "color": "black", "strokeWidth": 3, "strokeDash": [3, 5]}, "encoding": {"x": {"field": "t", "type": "quantitative"}}},
   {"data": {"name": "lab_a"}, "mark": {"type": "text", "align": "center", "baseline": "middle"}, "encoding": {"x": {"field": "t", "type": "quantitative"}, "y": {"field": "v", "type": "quantitative"}, "text": {"field": "label"}}}
  ]
 },
 {
  "width": 523, "height": 207,
  "layer": [
   {"data": {"name": "b"}, "mark": {"type": "line", "strokeWidth": 3, "clip": true},
    "encoding": {
     "x": {"field": "t", "type": "quantitative", "scale": {"domain": [-3.14159, 3.14159], "nice": false, "zero": false}, "axis": {"values": [-3.14159, -1.5708, 0, 1.5708, 3.14159], "labels": false, "title": null}},
     "y": {"field": "v", "type": "quantitative", "scale": {"domain": [-0.2, 4.25], "nice": false, "zero": false}, "axis": {"values": [0, 2, 4], "title": "ũₓ² [km²/s²]"}},
     "color": {"field": "s", "type": "nominal", "sort": null, "scale": {"domain": ["GRILLIX fav", "GRILLIX unfav", "GENE-X fav"], "range": ["#006e60", "#f28100", "#00b1ea"]}, "legend": null}
    }},
   {"data": {"name": "xa"}, "mark": {"type": "rule", "color": "black", "strokeWidth": 3, "strokeDash": [11, 5]}, "encoding": {"x": {"field": "t", "type": "quantitative"}}},
   {"data": {"name": "xs"}, "mark": {"type": "rule", "color": "black", "strokeWidth": 3, "strokeDash": [3, 5]}, "encoding": {"x": {"field": "t", "type": "quantitative"}}},
   {"data": {"name": "lab_b"}, "mark": {"type": "text", "align": "center", "baseline": "middle"}, "encoding": {"x": {"field": "t", "type": "quantitative"}, "y": {"field": "v", "type": "quantitative"}, "text": {"field": "label"}}},
   {"data": {"name": "ann_b"}, "mark": {"type": "text", "align": "left", "baseline": "middle", "angle": 270, "fontSize": 21}, "encoding": {"x": {"field": "t", "type": "quantitative"}, "y": {"field": "v", "type": "quantitative"}, "text": {"field": "label"}}}
  ]
 },
 {
  "width": 523, "height": 207,
  "layer": [
   {"data": {"name": "c"}, "mark": {"type": "line", "strokeWidth": 3, "clip": true},
    "encoding": {
     "x": {"field": "t", "type": "quantitative", "scale": {"domain": [-3.14159, 3.14159], "nice": false, "zero": false}, "axis": {"values": [-3.14159, -1.5708, 0, 1.5708, 3.14159], "labels": false, "title": null}},
     "y": {"field": "v", "type": "quantitative", "scale": {"domain": [-6, 2], "nice": false, "zero": false}, "axis": {"values": [-6, -4, -2, 0, 2], "title": "αᵤ"}},
     "color": {"field": "s", "type": "nominal", "sort": null, "scale": {"domain": ["GRILLIX fav", "GRILLIX unfav", "GENE-X fav"], "range": ["#006e60", "#f28100", "#00b1ea"]}, "legend": null}
    }},
   {"data": {"name": "cm"}, "mark": {"type": "line", "strokeWidth": 3, "color": "#cad630", "clip": true},
    "encoding": {
     "x": {"field": "t", "type": "quantitative"},
     "y": {"field": "v", "type": "quantitative"},
     "strokeDash": {"field": "s", "type": "nominal", "scale": {"range": [[11, 5]]}, "legend": {"orient": "none", "legendX": 171, "legendY": 152, "symbolStrokeColor": "#cad630", "symbolSize": 1850, "padding": 8}}
    }},
   {"data": {"name": "xa"}, "mark": {"type": "rule", "color": "black", "strokeWidth": 3, "strokeDash": [11, 5]}, "encoding": {"x": {"field": "t", "type": "quantitative"}}},
   {"data": {"name": "xs"}, "mark": {"type": "rule", "color": "black", "strokeWidth": 3, "strokeDash": [3, 5]}, "encoding": {"x": {"field": "t", "type": "quantitative"}}},
   {"data": {"name": "lab_c"}, "mark": {"type": "text", "align": "center", "baseline": "middle"}, "encoding": {"x": {"field": "t", "type": "quantitative"}, "y": {"field": "v", "type": "quantitative"}, "text": {"field": "label"}}}
  ]
 },
 {
  "width": 523, "height": 207,
  "layer": [
   {"data": {"name": "d"}, "mark": {"type": "line", "strokeWidth": 3, "clip": true},
    "encoding": {
     "x": {"field": "t", "type": "quantitative", "scale": {"domain": [-3.14159, 3.14159], "nice": false, "zero": false}, "axis": {"values": [-3.14159, -1.5708, 0, 1.5708, 3.14159], "labels": false, "title": null}},
     "y": {"field": "v", "type": "quantitative", "scale": {"domain": [-1.95, 50.1], "nice": false, "zero": false}, "axis": {"values": [0, 20, 40], "title": "ϕ̃² [V²]"}},
     "color": {"field": "s", "type": "nominal", "sort": null, "scale": {"domain": ["GRILLIX fav", "GRILLIX unfav", "GENE-X fav"], "range": ["#006e60", "#f28100", "#00b1ea"]}, "legend": null}
    }},
   {"data": {"name": "xa"}, "mark": {"type": "rule", "color": "black", "strokeWidth": 3, "strokeDash": [11, 5]}, "encoding": {"x": {"field": "t", "type": "quantitative"}}},
   {"data": {"name": "xs"}, "mark": {"type": "rule", "color": "black", "strokeWidth": 3, "strokeDash": [3, 5]}, "encoding": {"x": {"field": "t", "type": "quantitative"}}},
   {"data": {"name": "lab_d"}, "mark": {"type": "text", "align": "center", "baseline": "middle"}, "encoding": {"x": {"field": "t", "type": "quantitative"}, "y": {"field": "v", "type": "quantitative"}, "text": {"field": "label"}}}
  ]
 },
 {
  "width": 523, "height": 207,
  "layer": [
   {"data": {"name": "e"}, "mark": {"type": "line", "strokeWidth": 3, "clip": true},
    "encoding": {
     "x": {"field": "t", "type": "quantitative", "scale": {"domain": [-3.14159, 3.14159], "nice": false, "zero": false}, "axis": {"values": [-3.14159, -1.5708, 0, 1.5708, 3.14159], "labelExpr": "datum.value < -3 ? '−π' : datum.value < -1 ? '−π/2' : datum.value < 1 ? '0' : datum.value < 3 ? 'π/2' : 'π'", "title": "θᵥ", "titlePadding": 14}},
     "y": {"field": "v", "type": "quantitative", "scale": {"domain": [0, 5.98], "nice": false, "zero": false}, "axis": {"values": [0, 2, 4], "title": "k̂ᵧ [1/cm]"}},
     "color": {"field": "s", "type": "nominal", "sort": null, "scale": {"domain": ["GRILLIX fav", "GRILLIX unfav", "GENE-X fav"], "range": ["#006e60", "#f28100", "#00b1ea"]}, "legend": null}
    }},
   {"data": {"name": "em"}, "mark": {"type": "line", "strokeWidth": 3, "color": "#cad630", "clip": true},
    "encoding": {
     "x": {"field": "t", "type": "quantitative"},
     "y": {"field": "v", "type": "quantitative"},
     "strokeDash": {"field": "s", "type": "nominal", "scale": {"range": [[11, 5]]}, "legend": {"orient": "top-right", "offset": 10, "symbolStrokeColor": "#cad630", "symbolSize": 1850, "padding": 10}}
    }},
   {"data": {"name": "xa"}, "mark": {"type": "rule", "color": "black", "strokeWidth": 3, "strokeDash": [11, 5]}, "encoding": {"x": {"field": "t", "type": "quantitative"}}},
   {"data": {"name": "xs"}, "mark": {"type": "rule", "color": "black", "strokeWidth": 3, "strokeDash": [3, 5]}, "encoding": {"x": {"field": "t", "type": "quantitative"}}},
   {"data": {"name": "lab_e"}, "mark": {"type": "text", "align": "center", "baseline": "middle"}, "encoding": {"x": {"field": "t", "type": "quantitative"}, "y": {"field": "v", "type": "quantitative"}, "text": {"field": "label"}}}
  ]
 }
]
}
